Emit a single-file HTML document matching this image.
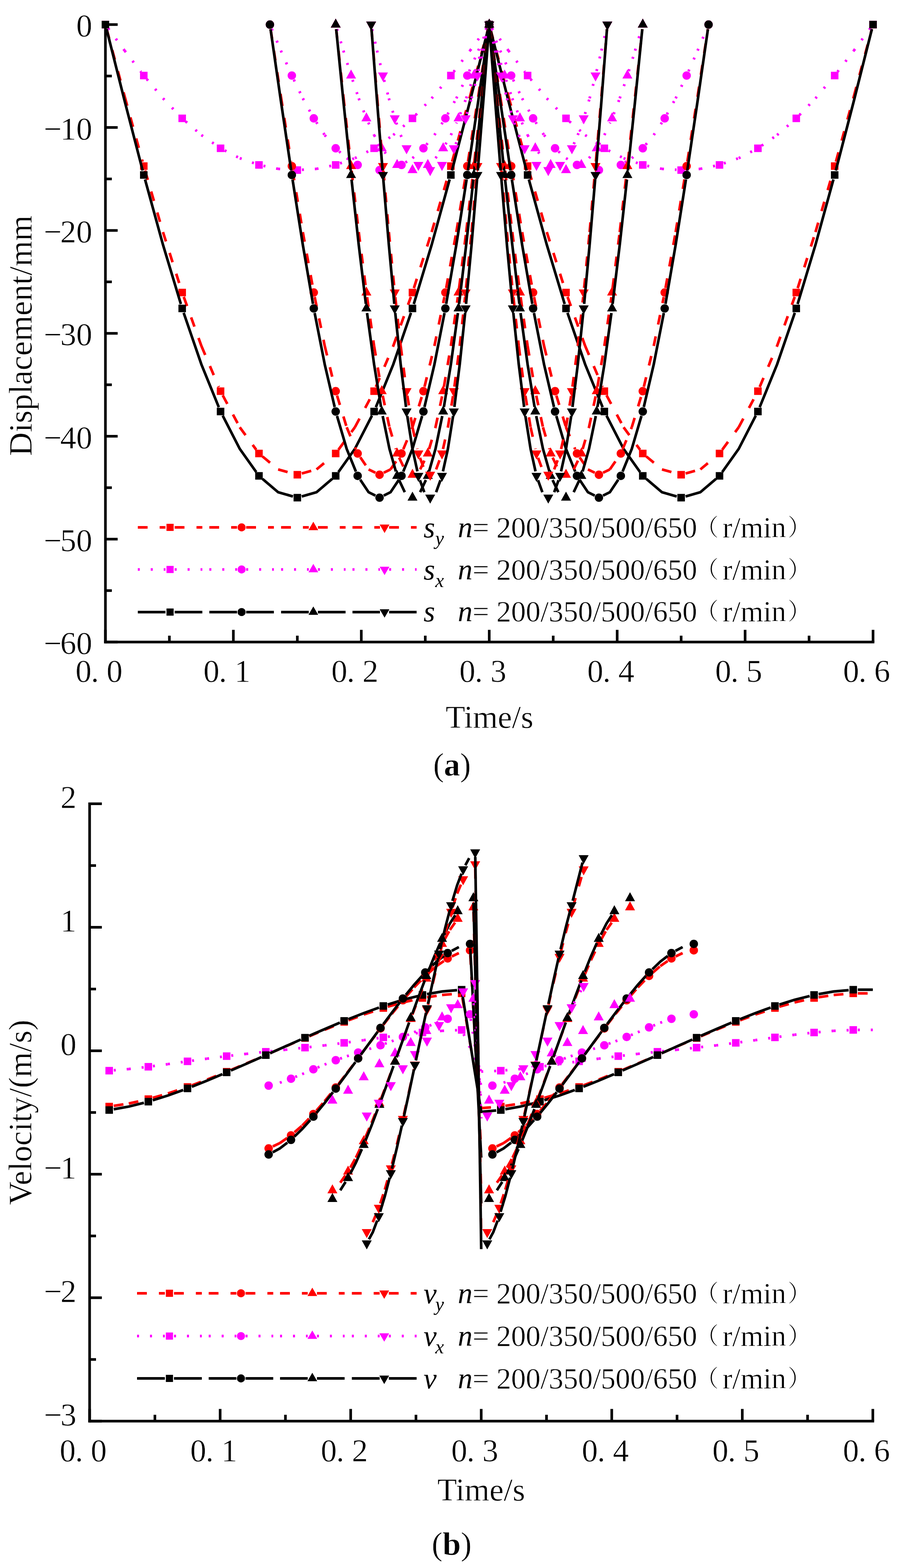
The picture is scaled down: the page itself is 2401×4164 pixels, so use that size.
<!DOCTYPE html>
<html><head><meta charset="utf-8"><title>Displacement and velocity curves</title>
<style>html,body{margin:0;padding:0;background:#fff;} svg{display:block;}</style>
</head><body>
<svg width="2401" height="4164" viewBox="0 0 2401 4164" font-family="'Liberation Serif','Noto Serif CJK SC',serif">
<style>text{stroke:#fff;stroke-width:0.8px;} tspan[font-style=italic]{stroke:none;}</style>
<rect width="2401" height="4164" fill="#fff"/>
<g stroke="#ff0000" stroke-width="7.0" stroke-dasharray="26 32" fill="none"><path d="M283.2,77.1 L331.0,255.8"/><path d="M331.0,255.8 L378.7,429.4"/><path d="M385.3,452.8 L432.9,616.3"/><path d="M432.9,616.3 L480.2,765.2"/><path d="M488.0,788.3 L534.9,918.7"/><path d="M534.9,918.7 L581.1,1027.6"/><path d="M591.5,1049.6 L636.8,1134.6"/><path d="M636.8,1134.6 L680.6,1194.4"/><path d="M697.2,1212.1 L738.7,1246.6"/><path d="M738.7,1246.6 L777.9,1257.4"/><path d="M801.5,1257.4 L840.7,1246.6"/><path d="M840.7,1246.6 L882.2,1212.1"/><path d="M898.8,1194.4 L942.6,1134.6"/><path d="M942.6,1134.6 L987.9,1049.6"/><path d="M998.3,1027.6 L1044.5,918.7"/><path d="M1044.5,918.7 L1091.4,788.3"/><path d="M1099.2,765.2 L1146.5,616.3"/><path d="M1146.5,616.3 L1194.1,452.8"/><path d="M1200.7,429.4 L1248.4,255.8"/><path d="M1248.4,255.8 L1296.2,77.1"/><path d="M1302.6,77.1 L1350.4,255.8"/><path d="M1350.4,255.8 L1398.1,429.4"/><path d="M1404.7,452.8 L1452.3,616.3"/><path d="M1452.3,616.3 L1499.6,765.2"/><path d="M1507.4,788.3 L1554.2,918.7"/><path d="M1554.2,918.7 L1600.5,1027.6"/><path d="M1610.9,1049.6 L1656.2,1134.6"/><path d="M1656.2,1134.6 L1700.0,1194.4"/><path d="M1716.6,1212.1 L1758.1,1246.6"/><path d="M1758.1,1246.6 L1797.3,1257.4"/><path d="M1820.9,1257.4 L1860.1,1246.6"/><path d="M1860.1,1246.6 L1901.6,1212.1"/><path d="M1918.2,1194.4 L1962.0,1134.6"/><path d="M1962.0,1134.6 L2007.3,1049.6"/><path d="M2017.7,1027.6 L2063.9,918.7"/><path d="M2063.9,918.7 L2110.8,788.3"/><path d="M2118.6,765.2 L2165.9,616.3"/><path d="M2165.9,616.3 L2213.5,452.8"/><path d="M2220.1,429.4 L2267.8,255.8"/><path d="M2267.8,255.8 L2315.6,77.1"/></g>
<rect x="270.0" y="55.3" width="20.0" height="20.0" fill="#ff0000"/>
<rect x="371.9" y="431.1" width="20.0" height="20.0" fill="#ff0000"/>
<rect x="473.9" y="766.8" width="20.0" height="20.0" fill="#ff0000"/>
<rect x="575.8" y="1028.8" width="20.0" height="20.0" fill="#ff0000"/>
<rect x="677.8" y="1194.3" width="20.0" height="20.0" fill="#ff0000"/>
<rect x="779.7" y="1250.7" width="20.0" height="20.0" fill="#ff0000"/>
<rect x="881.6" y="1194.3" width="20.0" height="20.0" fill="#ff0000"/>
<rect x="983.6" y="1028.8" width="20.0" height="20.0" fill="#ff0000"/>
<rect x="1085.5" y="766.8" width="20.0" height="20.0" fill="#ff0000"/>
<rect x="1187.5" y="431.1" width="20.0" height="20.0" fill="#ff0000"/>
<rect x="1289.4" y="55.3" width="20.0" height="20.0" fill="#ff0000"/>
<rect x="1391.3" y="431.1" width="20.0" height="20.0" fill="#ff0000"/>
<rect x="1493.3" y="766.8" width="20.0" height="20.0" fill="#ff0000"/>
<rect x="1595.2" y="1028.8" width="20.0" height="20.0" fill="#ff0000"/>
<rect x="1697.2" y="1194.3" width="20.0" height="20.0" fill="#ff0000"/>
<rect x="1799.1" y="1250.7" width="20.0" height="20.0" fill="#ff0000"/>
<rect x="1901.0" y="1194.3" width="20.0" height="20.0" fill="#ff0000"/>
<rect x="2003.0" y="1028.8" width="20.0" height="20.0" fill="#ff0000"/>
<rect x="2104.9" y="766.8" width="20.0" height="20.0" fill="#ff0000"/>
<rect x="2206.9" y="431.1" width="20.0" height="20.0" fill="#ff0000"/>
<rect x="2308.8" y="55.3" width="20.0" height="20.0" fill="#ff0000"/>
<g stroke="#ff00ff" stroke-width="7.0" stroke-dasharray="5.3 29.1" fill="none"><path d="M287.2,75.1 L331.0,134.4"/><path d="M331.0,134.4 L374.5,190.9"/><path d="M389.8,209.9 L432.9,261.2"/><path d="M432.9,261.2 L475.4,305.5"/><path d="M493.1,322.3 L534.9,358.7"/><path d="M534.9,358.7 L575.8,386.9"/><path d="M596.7,399.4 L636.8,420.1"/><path d="M636.8,420.1 L676.3,433.9"/><path d="M699.7,440.4 L738.7,448.4"/><path d="M738.7,448.4 L777.5,450.9"/><path d="M801.9,450.9 L840.7,448.4"/><path d="M840.7,448.4 L879.7,440.4"/><path d="M903.1,433.9 L942.6,420.1"/><path d="M942.6,420.1 L982.7,399.4"/><path d="M1003.6,386.9 L1044.5,358.7"/><path d="M1044.5,358.7 L1086.3,322.3"/><path d="M1104.0,305.5 L1146.5,261.2"/><path d="M1146.5,261.2 L1189.6,209.9"/><path d="M1204.9,190.9 L1248.4,134.4"/><path d="M1248.4,134.4 L1292.2,75.1"/><path d="M1306.6,75.1 L1350.4,134.4"/><path d="M1350.4,134.4 L1393.9,190.9"/><path d="M1409.2,209.9 L1452.3,261.2"/><path d="M1452.3,261.2 L1494.8,305.5"/><path d="M1512.5,322.3 L1554.2,358.7"/><path d="M1554.2,358.7 L1595.2,386.9"/><path d="M1616.1,399.4 L1656.2,420.1"/><path d="M1656.2,420.1 L1695.7,433.9"/><path d="M1719.1,440.4 L1758.1,448.4"/><path d="M1758.1,448.4 L1796.9,450.9"/><path d="M1821.3,450.9 L1860.1,448.4"/><path d="M1860.1,448.4 L1899.1,440.4"/><path d="M1922.5,433.9 L1962.0,420.1"/><path d="M1962.0,420.1 L2002.1,399.4"/><path d="M2023.0,386.9 L2063.9,358.7"/><path d="M2063.9,358.7 L2105.7,322.3"/><path d="M2123.4,305.5 L2165.9,261.2"/><path d="M2165.9,261.2 L2209.0,209.9"/><path d="M2224.3,190.9 L2267.8,134.4"/><path d="M2267.8,134.4 L2311.6,75.1"/></g>
<rect x="270.0" y="55.3" width="20.0" height="20.0" fill="#ff00ff"/>
<rect x="371.9" y="190.6" width="20.0" height="20.0" fill="#ff00ff"/>
<rect x="473.9" y="304.3" width="20.0" height="20.0" fill="#ff00ff"/>
<rect x="575.8" y="383.8" width="20.0" height="20.0" fill="#ff00ff"/>
<rect x="677.8" y="428.0" width="20.0" height="20.0" fill="#ff00ff"/>
<rect x="779.7" y="441.7" width="20.0" height="20.0" fill="#ff00ff"/>
<rect x="881.6" y="428.0" width="20.0" height="20.0" fill="#ff00ff"/>
<rect x="983.6" y="383.8" width="20.0" height="20.0" fill="#ff00ff"/>
<rect x="1085.5" y="304.3" width="20.0" height="20.0" fill="#ff00ff"/>
<rect x="1187.5" y="190.6" width="20.0" height="20.0" fill="#ff00ff"/>
<rect x="1289.4" y="55.3" width="20.0" height="20.0" fill="#ff00ff"/>
<rect x="1391.3" y="190.6" width="20.0" height="20.0" fill="#ff00ff"/>
<rect x="1493.3" y="304.3" width="20.0" height="20.0" fill="#ff00ff"/>
<rect x="1595.2" y="383.8" width="20.0" height="20.0" fill="#ff00ff"/>
<rect x="1697.2" y="428.0" width="20.0" height="20.0" fill="#ff00ff"/>
<rect x="1799.1" y="441.7" width="20.0" height="20.0" fill="#ff00ff"/>
<rect x="1901.0" y="428.0" width="20.0" height="20.0" fill="#ff00ff"/>
<rect x="2003.0" y="383.8" width="20.0" height="20.0" fill="#ff00ff"/>
<rect x="2104.9" y="304.3" width="20.0" height="20.0" fill="#ff00ff"/>
<rect x="2206.9" y="190.6" width="20.0" height="20.0" fill="#ff00ff"/>
<rect x="2308.8" y="55.3" width="20.0" height="20.0" fill="#ff00ff"/>
<path d="M283.0,77.1 L331.0,268.0 L378.9,452.9M385.2,476.5 L432.9,650.1 L480.4,807.4M487.8,830.6 L534.9,967.7 L581.2,1081.5M591.4,1103.6 L636.8,1192.0 L680.7,1253.8M697.0,1271.6 L738.7,1307.1 L778.0,1318.3M801.4,1318.3 L840.7,1307.1 L882.4,1271.6M898.7,1253.8 L942.6,1192.0 L988.0,1103.6M998.2,1081.5 L1044.5,967.7 L1091.6,830.6M1099.0,807.4 L1146.5,650.1 L1194.2,476.5M1200.5,452.9 L1248.4,268.0 L1296.4,77.1M1302.4,77.1 L1350.4,268.0 L1398.3,452.9M1404.6,476.5 L1452.3,650.1 L1499.8,807.4M1507.2,830.6 L1554.2,967.7 L1600.6,1081.5M1610.8,1103.6 L1656.2,1192.0 L1700.1,1253.8M1716.4,1271.6 L1758.1,1307.1 L1797.4,1318.3M1820.8,1318.3 L1860.1,1307.1 L1901.8,1271.6M1918.1,1253.8 L1962.0,1192.0 L2007.4,1103.6M2017.6,1081.5 L2063.9,967.7 L2111.0,830.6M2118.4,807.4 L2165.9,650.1 L2213.6,476.5M2219.9,452.9 L2267.8,268.0 L2315.8,77.1" stroke="#000000" stroke-width="7.0" fill="none"/>
<rect x="270.0" y="55.3" width="20.0" height="20.0" fill="#000000"/>
<rect x="371.9" y="454.7" width="20.0" height="20.0" fill="#000000"/>
<rect x="473.9" y="809.1" width="20.0" height="20.0" fill="#000000"/>
<rect x="575.8" y="1082.8" width="20.0" height="20.0" fill="#000000"/>
<rect x="677.8" y="1253.7" width="20.0" height="20.0" fill="#000000"/>
<rect x="779.7" y="1311.6" width="20.0" height="20.0" fill="#000000"/>
<rect x="881.6" y="1253.7" width="20.0" height="20.0" fill="#000000"/>
<rect x="983.6" y="1082.8" width="20.0" height="20.0" fill="#000000"/>
<rect x="1085.5" y="809.1" width="20.0" height="20.0" fill="#000000"/>
<rect x="1187.5" y="454.7" width="20.0" height="20.0" fill="#000000"/>
<rect x="1289.4" y="55.3" width="20.0" height="20.0" fill="#000000"/>
<rect x="1391.3" y="454.7" width="20.0" height="20.0" fill="#000000"/>
<rect x="1493.3" y="809.1" width="20.0" height="20.0" fill="#000000"/>
<rect x="1595.2" y="1082.8" width="20.0" height="20.0" fill="#000000"/>
<rect x="1697.2" y="1253.7" width="20.0" height="20.0" fill="#000000"/>
<rect x="1799.1" y="1311.6" width="20.0" height="20.0" fill="#000000"/>
<rect x="1901.0" y="1253.7" width="20.0" height="20.0" fill="#000000"/>
<rect x="2003.0" y="1082.8" width="20.0" height="20.0" fill="#000000"/>
<rect x="2104.9" y="809.1" width="20.0" height="20.0" fill="#000000"/>
<rect x="2206.9" y="454.7" width="20.0" height="20.0" fill="#000000"/>
<rect x="2308.8" y="55.3" width="20.0" height="20.0" fill="#000000"/>
<g stroke="#ff0000" stroke-width="7.0" stroke-dasharray="26 32" fill="none"><path d="M718.7,77.4 L746.0,255.8"/><path d="M746.0,255.8 L773.2,429.1"/><path d="M777.1,453.2 L804.3,616.3"/><path d="M804.3,616.3 L831.2,764.8"/><path d="M835.8,788.7 L862.5,918.7"/><path d="M862.5,918.7 L888.8,1027.0"/><path d="M895.2,1050.5 L920.8,1134.6"/><path d="M920.8,1134.6 L945.2,1193.0"/><path d="M956.8,1214.3 L979.0,1246.6"/><path d="M979.0,1246.6 L997.2,1255.4"/><path d="M1019.1,1255.4 L1037.3,1246.6"/><path d="M1037.3,1246.6 L1059.5,1214.3"/><path d="M1071.1,1193.0 L1095.5,1134.6"/><path d="M1095.5,1134.6 L1121.1,1050.5"/><path d="M1127.5,1027.0 L1153.8,918.7"/><path d="M1153.8,918.7 L1180.4,788.7"/><path d="M1185.1,764.8 L1212.0,616.3"/><path d="M1212.0,616.3 L1239.1,453.2"/><path d="M1243.0,429.1 L1270.3,255.8"/><path d="M1270.3,255.8 L1297.6,77.4"/><path d="M1301.2,77.4 L1328.5,255.8"/><path d="M1328.5,255.8 L1355.8,429.1"/><path d="M1359.7,453.2 L1386.8,616.3"/><path d="M1386.8,616.3 L1413.7,764.8"/><path d="M1418.4,788.7 L1445.0,918.7"/><path d="M1445.0,918.7 L1471.3,1027.0"/><path d="M1477.7,1050.5 L1503.3,1134.6"/><path d="M1503.3,1134.6 L1527.7,1193.0"/><path d="M1539.3,1214.3 L1561.5,1246.6"/><path d="M1561.5,1246.6 L1579.7,1255.4"/><path d="M1601.6,1255.4 L1619.8,1246.6"/><path d="M1619.8,1246.6 L1642.0,1214.3"/><path d="M1653.6,1193.0 L1678.0,1134.6"/><path d="M1678.0,1134.6 L1703.6,1050.5"/><path d="M1710.0,1027.0 L1736.3,918.7"/><path d="M1736.3,918.7 L1763.0,788.7"/><path d="M1767.6,764.8 L1794.5,616.3"/><path d="M1794.5,616.3 L1821.7,453.2"/><path d="M1825.6,429.1 L1852.8,255.8"/><path d="M1852.8,255.8 L1880.1,77.4"/></g>
<circle cx="716.9" cy="65.3" r="11.2" fill="#ff0000"/>
<circle cx="775.1" cy="441.1" r="11.2" fill="#ff0000"/>
<circle cx="833.4" cy="776.8" r="11.2" fill="#ff0000"/>
<circle cx="891.6" cy="1038.8" r="11.2" fill="#ff0000"/>
<circle cx="949.9" cy="1204.3" r="11.2" fill="#ff0000"/>
<circle cx="1008.1" cy="1260.7" r="11.2" fill="#ff0000"/>
<circle cx="1066.4" cy="1204.3" r="11.2" fill="#ff0000"/>
<circle cx="1124.6" cy="1038.8" r="11.2" fill="#ff0000"/>
<circle cx="1182.9" cy="776.8" r="11.2" fill="#ff0000"/>
<circle cx="1241.1" cy="441.1" r="11.2" fill="#ff0000"/>
<circle cx="1299.4" cy="65.3" r="11.2" fill="#ff0000"/>
<circle cx="1357.7" cy="441.1" r="11.2" fill="#ff0000"/>
<circle cx="1415.9" cy="776.8" r="11.2" fill="#ff0000"/>
<circle cx="1474.2" cy="1038.8" r="11.2" fill="#ff0000"/>
<circle cx="1532.4" cy="1204.3" r="11.2" fill="#ff0000"/>
<circle cx="1590.7" cy="1260.7" r="11.2" fill="#ff0000"/>
<circle cx="1648.9" cy="1204.3" r="11.2" fill="#ff0000"/>
<circle cx="1707.2" cy="1038.8" r="11.2" fill="#ff0000"/>
<circle cx="1765.4" cy="776.8" r="11.2" fill="#ff0000"/>
<circle cx="1823.7" cy="441.1" r="11.2" fill="#ff0000"/>
<circle cx="1881.9" cy="65.3" r="11.2" fill="#ff0000"/>
<g stroke="#ff00ff" stroke-width="7.0" stroke-dasharray="5.3 29.1" fill="none"><path d="M721.6,76.5 L746.0,134.4"/><path d="M746.0,134.4 L770.2,189.4"/><path d="M780.4,211.6 L804.3,261.2"/><path d="M804.3,261.2 L827.5,303.6"/><path d="M840.1,324.5 L862.5,358.7"/><path d="M862.5,358.7 L883.9,384.4"/><path d="M900.7,402.0 L920.8,420.1"/><path d="M920.8,420.1 L939.5,431.6"/><path d="M1076.8,431.6 L1095.5,420.1"/><path d="M1095.5,420.1 L1115.6,402.0"/><path d="M1132.4,384.4 L1153.8,358.7"/><path d="M1153.8,358.7 L1176.2,324.5"/><path d="M1188.8,303.6 L1212.0,261.2"/><path d="M1212.0,261.2 L1235.9,211.6"/><path d="M1246.1,189.4 L1270.3,134.4"/><path d="M1270.3,134.4 L1294.7,76.5"/><path d="M1304.1,76.5 L1328.5,134.4"/><path d="M1328.5,134.4 L1352.7,189.4"/><path d="M1362.9,211.6 L1386.8,261.2"/><path d="M1386.8,261.2 L1410.0,303.6"/><path d="M1422.6,324.5 L1445.0,358.7"/><path d="M1445.0,358.7 L1466.4,384.4"/><path d="M1483.2,402.0 L1503.3,420.1"/><path d="M1503.3,420.1 L1522.0,431.6"/><path d="M1659.3,431.6 L1678.0,420.1"/><path d="M1678.0,420.1 L1698.1,402.0"/><path d="M1714.9,384.4 L1736.3,358.7"/><path d="M1736.3,358.7 L1758.7,324.5"/><path d="M1771.3,303.6 L1794.5,261.2"/><path d="M1794.5,261.2 L1818.4,211.6"/><path d="M1828.6,189.4 L1852.8,134.4"/><path d="M1852.8,134.4 L1877.2,76.5"/></g>
<circle cx="716.9" cy="65.3" r="11.2" fill="#ff00ff"/>
<circle cx="775.1" cy="200.6" r="11.2" fill="#ff00ff"/>
<circle cx="833.4" cy="314.3" r="11.2" fill="#ff00ff"/>
<circle cx="891.6" cy="393.8" r="11.2" fill="#ff00ff"/>
<circle cx="949.9" cy="438.0" r="11.2" fill="#ff00ff"/>
<circle cx="1008.1" cy="451.7" r="11.2" fill="#ff00ff"/>
<circle cx="1066.4" cy="438.0" r="11.2" fill="#ff00ff"/>
<circle cx="1124.6" cy="393.8" r="11.2" fill="#ff00ff"/>
<circle cx="1182.9" cy="314.3" r="11.2" fill="#ff00ff"/>
<circle cx="1241.1" cy="200.6" r="11.2" fill="#ff00ff"/>
<circle cx="1299.4" cy="65.3" r="11.2" fill="#ff00ff"/>
<circle cx="1357.7" cy="200.6" r="11.2" fill="#ff00ff"/>
<circle cx="1415.9" cy="314.3" r="11.2" fill="#ff00ff"/>
<circle cx="1474.2" cy="393.8" r="11.2" fill="#ff00ff"/>
<circle cx="1532.4" cy="438.0" r="11.2" fill="#ff00ff"/>
<circle cx="1590.7" cy="451.7" r="11.2" fill="#ff00ff"/>
<circle cx="1648.9" cy="438.0" r="11.2" fill="#ff00ff"/>
<circle cx="1707.2" cy="393.8" r="11.2" fill="#ff00ff"/>
<circle cx="1765.4" cy="314.3" r="11.2" fill="#ff00ff"/>
<circle cx="1823.7" cy="200.6" r="11.2" fill="#ff00ff"/>
<circle cx="1881.9" cy="65.3" r="11.2" fill="#ff00ff"/>
<path d="M718.6,77.4 L746.0,268.0 L773.4,452.7M777.0,476.8 L804.3,650.1 L831.3,807.1M835.7,831.1 L862.5,967.7 L888.9,1080.9M895.1,1104.5 L920.8,1192.0 L945.3,1252.4M956.7,1273.8 L979.0,1307.1 L997.2,1316.2M1019.1,1316.2 L1037.3,1307.1 L1059.6,1273.8M1071.0,1252.4 L1095.5,1192.0 L1121.2,1104.5M1127.4,1080.9 L1153.8,967.7 L1180.6,831.1M1185.0,807.1 L1212.0,650.1 L1239.3,476.8M1242.9,452.7 L1270.3,268.0 L1297.7,77.4M1301.1,77.4 L1328.5,268.0 L1355.9,452.7M1359.5,476.8 L1386.8,650.1 L1413.8,807.1M1418.2,831.1 L1445.0,967.7 L1471.4,1080.9M1477.6,1104.5 L1503.3,1192.0 L1527.8,1252.4M1539.2,1273.8 L1561.5,1307.1 L1579.7,1316.2M1601.6,1316.2 L1619.8,1307.1 L1642.1,1273.8M1653.5,1252.4 L1678.0,1192.0 L1703.7,1104.5M1709.9,1080.9 L1736.3,967.7 L1763.1,831.1M1767.5,807.1 L1794.5,650.1 L1821.8,476.8M1825.4,452.7 L1852.8,268.0 L1880.2,77.4" stroke="#000000" stroke-width="7.0" fill="none"/>
<circle cx="716.9" cy="65.3" r="11.2" fill="#000000"/>
<circle cx="775.1" cy="464.7" r="11.2" fill="#000000"/>
<circle cx="833.4" cy="819.1" r="11.2" fill="#000000"/>
<circle cx="891.6" cy="1092.8" r="11.2" fill="#000000"/>
<circle cx="949.9" cy="1263.7" r="11.2" fill="#000000"/>
<circle cx="1008.1" cy="1321.6" r="11.2" fill="#000000"/>
<circle cx="1066.4" cy="1263.7" r="11.2" fill="#000000"/>
<circle cx="1124.6" cy="1092.8" r="11.2" fill="#000000"/>
<circle cx="1182.9" cy="819.1" r="11.2" fill="#000000"/>
<circle cx="1241.1" cy="464.7" r="11.2" fill="#000000"/>
<circle cx="1299.4" cy="65.3" r="11.2" fill="#000000"/>
<circle cx="1357.7" cy="464.7" r="11.2" fill="#000000"/>
<circle cx="1415.9" cy="819.1" r="11.2" fill="#000000"/>
<circle cx="1474.2" cy="1092.8" r="11.2" fill="#000000"/>
<circle cx="1532.4" cy="1263.7" r="11.2" fill="#000000"/>
<circle cx="1590.7" cy="1321.6" r="11.2" fill="#000000"/>
<circle cx="1648.9" cy="1263.7" r="11.2" fill="#000000"/>
<circle cx="1707.2" cy="1092.8" r="11.2" fill="#000000"/>
<circle cx="1765.4" cy="819.1" r="11.2" fill="#000000"/>
<circle cx="1823.7" cy="464.7" r="11.2" fill="#000000"/>
<circle cx="1881.9" cy="65.3" r="11.2" fill="#000000"/>
<g stroke="#ff0000" stroke-width="7.0" stroke-dasharray="26 32" fill="none"><path d="M892.9,77.4 L912.0,255.8"/><path d="M912.0,255.8 L931.1,429.0"/><path d="M933.8,453.2 L952.8,616.3"/><path d="M952.8,616.3 L971.7,764.7"/><path d="M974.9,788.9 L993.6,918.7"/><path d="M993.6,918.7 L1011.9,1026.8"/><path d="M1016.5,1050.8 L1034.4,1134.6"/><path d="M1034.4,1134.6 L1051.3,1192.6"/><path d="M1060.0,1215.3 L1075.1,1246.6"/><path d="M1115.9,1246.6 L1131.0,1215.3"/><path d="M1139.7,1192.6 L1156.7,1134.6"/><path d="M1156.7,1134.6 L1174.5,1050.8"/><path d="M1179.1,1026.8 L1197.5,918.7"/><path d="M1197.5,918.7 L1216.1,788.9"/><path d="M1219.4,764.7 L1238.2,616.3"/><path d="M1238.2,616.3 L1257.2,453.2"/><path d="M1260.0,429.0 L1279.0,255.8"/><path d="M1279.0,255.8 L1298.1,77.4"/><path d="M1300.7,77.4 L1319.8,255.8"/><path d="M1319.8,255.8 L1338.8,429.0"/><path d="M1341.6,453.2 L1360.6,616.3"/><path d="M1360.6,616.3 L1379.4,764.7"/><path d="M1382.7,788.9 L1401.3,918.7"/><path d="M1401.3,918.7 L1419.7,1026.8"/><path d="M1424.3,1050.8 L1442.1,1134.6"/><path d="M1442.1,1134.6 L1459.1,1192.6"/><path d="M1467.8,1215.3 L1482.9,1246.6"/><path d="M1523.7,1246.6 L1538.8,1215.3"/><path d="M1547.5,1192.6 L1564.4,1134.6"/><path d="M1564.4,1134.6 L1582.3,1050.8"/><path d="M1586.9,1026.8 L1605.2,918.7"/><path d="M1605.2,918.7 L1623.9,788.9"/><path d="M1627.1,764.7 L1646.0,616.3"/><path d="M1646.0,616.3 L1665.0,453.2"/><path d="M1667.7,429.0 L1686.8,255.8"/><path d="M1686.8,255.8 L1705.9,77.4"/></g>
<polygon points="891.6,49.3 878.4,73.3 904.9,73.3" fill="#ff0000"/>
<polygon points="932.4,425.1 919.2,449.1 945.7,449.1" fill="#ff0000"/>
<polygon points="973.2,760.8 959.9,784.8 986.4,784.8" fill="#ff0000"/>
<polygon points="1014.0,1022.8 1000.7,1046.8 1027.2,1046.8" fill="#ff0000"/>
<polygon points="1054.7,1188.3 1041.5,1212.3 1068.0,1212.3" fill="#ff0000"/>
<polygon points="1095.5,1244.7 1082.3,1268.7 1108.8,1268.7" fill="#ff0000"/>
<polygon points="1136.3,1188.3 1123.0,1212.3 1149.5,1212.3" fill="#ff0000"/>
<polygon points="1177.1,1022.8 1163.8,1046.8 1190.3,1046.8" fill="#ff0000"/>
<polygon points="1217.8,760.8 1204.6,784.8 1231.1,784.8" fill="#ff0000"/>
<polygon points="1258.6,425.1 1245.4,449.1 1271.9,449.1" fill="#ff0000"/>
<polygon points="1299.4,49.3 1286.2,73.3 1312.7,73.3" fill="#ff0000"/>
<polygon points="1340.2,425.1 1326.9,449.1 1353.4,449.1" fill="#ff0000"/>
<polygon points="1381.0,760.8 1367.7,784.8 1394.2,784.8" fill="#ff0000"/>
<polygon points="1421.7,1022.8 1408.5,1046.8 1435.0,1046.8" fill="#ff0000"/>
<polygon points="1462.5,1188.3 1449.3,1212.3 1475.8,1212.3" fill="#ff0000"/>
<polygon points="1503.3,1244.7 1490.0,1268.7 1516.5,1268.7" fill="#ff0000"/>
<polygon points="1544.1,1188.3 1530.8,1212.3 1557.3,1212.3" fill="#ff0000"/>
<polygon points="1584.8,1022.8 1571.6,1046.8 1598.1,1046.8" fill="#ff0000"/>
<polygon points="1625.6,760.8 1612.4,784.8 1638.9,784.8" fill="#ff0000"/>
<polygon points="1666.4,425.1 1653.1,449.1 1679.6,449.1" fill="#ff0000"/>
<polygon points="1707.2,49.3 1693.9,73.3 1720.4,73.3" fill="#ff0000"/>
<g stroke="#ff00ff" stroke-width="7.0" stroke-dasharray="5.3 29.1" fill="none"><path d="M895.1,77.0 L912.0,134.4"/><path d="M912.0,134.4 L928.8,188.9"/><path d="M936.3,212.2 L952.8,261.2"/><path d="M952.8,261.2 L968.8,302.9"/><path d="M978.3,325.4 L993.6,358.7"/><path d="M993.6,358.7 L1007.8,383.3"/><path d="M1021.5,403.5 L1034.4,420.1"/><path d="M1156.7,420.1 L1169.6,403.5"/><path d="M1183.2,383.3 L1197.5,358.7"/><path d="M1197.5,358.7 L1212.8,325.4"/><path d="M1222.2,302.9 L1238.2,261.2"/><path d="M1238.2,261.2 L1254.7,212.2"/><path d="M1262.2,188.9 L1279.0,134.4"/><path d="M1279.0,134.4 L1295.9,77.0"/><path d="M1302.9,77.0 L1319.8,134.4"/><path d="M1319.8,134.4 L1336.6,188.9"/><path d="M1344.1,212.2 L1360.6,261.2"/><path d="M1360.6,261.2 L1376.6,302.9"/><path d="M1386.0,325.4 L1401.3,358.7"/><path d="M1401.3,358.7 L1415.6,383.3"/><path d="M1429.2,403.5 L1442.1,420.1"/><path d="M1564.4,420.1 L1577.3,403.5"/><path d="M1591.0,383.3 L1605.2,358.7"/><path d="M1605.2,358.7 L1620.5,325.4"/><path d="M1630.0,302.9 L1646.0,261.2"/><path d="M1646.0,261.2 L1662.5,212.2"/><path d="M1670.0,188.9 L1686.8,134.4"/><path d="M1686.8,134.4 L1703.7,77.0"/></g>
<polygon points="891.6,49.3 878.4,73.3 904.9,73.3" fill="#ff00ff"/>
<polygon points="932.4,184.6 919.2,208.6 945.7,208.6" fill="#ff00ff"/>
<polygon points="973.2,298.3 959.9,322.3 986.4,322.3" fill="#ff00ff"/>
<polygon points="1014.0,377.8 1000.7,401.8 1027.2,401.8" fill="#ff00ff"/>
<polygon points="1054.7,422.0 1041.5,446.0 1068.0,446.0" fill="#ff00ff"/>
<polygon points="1095.5,435.7 1082.3,459.7 1108.8,459.7" fill="#ff00ff"/>
<polygon points="1136.3,422.0 1123.0,446.0 1149.5,446.0" fill="#ff00ff"/>
<polygon points="1177.1,377.8 1163.8,401.8 1190.3,401.8" fill="#ff00ff"/>
<polygon points="1217.8,298.3 1204.6,322.3 1231.1,322.3" fill="#ff00ff"/>
<polygon points="1258.6,184.6 1245.4,208.6 1271.9,208.6" fill="#ff00ff"/>
<polygon points="1299.4,49.3 1286.2,73.3 1312.7,73.3" fill="#ff00ff"/>
<polygon points="1340.2,184.6 1326.9,208.6 1353.4,208.6" fill="#ff00ff"/>
<polygon points="1381.0,298.3 1367.7,322.3 1394.2,322.3" fill="#ff00ff"/>
<polygon points="1421.7,377.8 1408.5,401.8 1435.0,401.8" fill="#ff00ff"/>
<polygon points="1462.5,422.0 1449.3,446.0 1475.8,446.0" fill="#ff00ff"/>
<polygon points="1503.3,435.7 1490.0,459.7 1516.5,459.7" fill="#ff00ff"/>
<polygon points="1544.1,422.0 1530.8,446.0 1557.3,446.0" fill="#ff00ff"/>
<polygon points="1584.8,377.8 1571.6,401.8 1598.1,401.8" fill="#ff00ff"/>
<polygon points="1625.6,298.3 1612.4,322.3 1638.9,322.3" fill="#ff00ff"/>
<polygon points="1666.4,184.6 1653.1,208.6 1679.6,208.6" fill="#ff00ff"/>
<polygon points="1707.2,49.3 1693.9,73.3 1720.4,73.3" fill="#ff00ff"/>
<path d="M892.9,77.4 L912.0,268.0 L931.2,452.6M933.7,476.9 L952.8,650.1 L971.7,807.0M974.9,831.2 L993.6,967.7 L1012.0,1080.7M1016.4,1104.7 L1034.4,1192.0 L1051.4,1252.0M1059.9,1274.8 L1075.1,1307.1M1115.9,1307.1 L1131.1,1274.8M1139.6,1252.0 L1156.7,1192.0 L1174.6,1104.7M1179.0,1080.7 L1197.5,967.7 L1216.2,831.2M1219.3,807.0 L1238.2,650.1 L1257.3,476.9M1259.9,452.6 L1279.0,268.0 L1298.2,77.4M1300.6,77.4 L1319.8,268.0 L1338.9,452.6M1341.5,476.9 L1360.6,650.1 L1379.5,807.0M1382.6,831.2 L1401.3,967.7 L1419.8,1080.7M1424.2,1104.7 L1442.1,1192.0 L1459.2,1252.0M1467.7,1274.8 L1482.9,1307.1M1523.7,1307.1 L1538.9,1274.8M1547.4,1252.0 L1564.4,1192.0 L1582.4,1104.7M1586.8,1080.7 L1605.2,967.7 L1623.9,831.2M1627.1,807.0 L1646.0,650.1 L1665.1,476.9M1667.6,452.6 L1686.8,268.0 L1705.9,77.4" stroke="#000000" stroke-width="7.0" fill="none"/>
<polygon points="891.6,49.3 878.4,73.3 904.9,73.3" fill="#000000"/>
<polygon points="932.4,448.7 919.2,472.7 945.7,472.7" fill="#000000"/>
<polygon points="973.2,803.1 959.9,827.1 986.4,827.1" fill="#000000"/>
<polygon points="1014.0,1076.8 1000.7,1100.8 1027.2,1100.8" fill="#000000"/>
<polygon points="1054.7,1247.7 1041.5,1271.7 1068.0,1271.7" fill="#000000"/>
<polygon points="1095.5,1305.6 1082.3,1329.6 1108.8,1329.6" fill="#000000"/>
<polygon points="1136.3,1247.7 1123.0,1271.7 1149.5,1271.7" fill="#000000"/>
<polygon points="1177.1,1076.8 1163.8,1100.8 1190.3,1100.8" fill="#000000"/>
<polygon points="1217.8,803.1 1204.6,827.1 1231.1,827.1" fill="#000000"/>
<polygon points="1258.6,448.7 1245.4,472.7 1271.9,472.7" fill="#000000"/>
<polygon points="1299.4,49.3 1286.2,73.3 1312.7,73.3" fill="#000000"/>
<polygon points="1340.2,448.7 1326.9,472.7 1353.4,472.7" fill="#000000"/>
<polygon points="1381.0,803.1 1367.7,827.1 1394.2,827.1" fill="#000000"/>
<polygon points="1421.7,1076.8 1408.5,1100.8 1435.0,1100.8" fill="#000000"/>
<polygon points="1462.5,1247.7 1449.3,1271.7 1475.8,1271.7" fill="#000000"/>
<polygon points="1503.3,1305.6 1490.0,1329.6 1516.5,1329.6" fill="#000000"/>
<polygon points="1544.1,1247.7 1530.8,1271.7 1557.3,1271.7" fill="#000000"/>
<polygon points="1584.8,1076.8 1571.6,1100.8 1598.1,1100.8" fill="#000000"/>
<polygon points="1625.6,803.1 1612.4,827.1 1638.9,827.1" fill="#000000"/>
<polygon points="1666.4,448.7 1653.1,472.7 1679.6,472.7" fill="#000000"/>
<polygon points="1707.2,49.3 1693.9,73.3 1720.4,73.3" fill="#000000"/>
<g stroke="#ff0000" stroke-width="7.0" stroke-dasharray="26 32" fill="none"><path d="M986.7,77.5 L1001.4,255.8"/><path d="M1001.4,255.8 L1016.1,429.0"/><path d="M1018.2,453.3 L1032.8,616.3"/><path d="M1032.8,616.3 L1047.3,764.6"/><path d="M1049.8,788.9 L1064.2,918.7"/><path d="M1064.2,918.7 L1078.3,1026.7"/><path d="M1081.8,1050.9 L1095.5,1134.6"/><path d="M1095.5,1134.6 L1108.5,1192.4"/><path d="M1115.4,1215.7 L1126.9,1246.6"/><path d="M1158.3,1246.6 L1169.7,1215.7"/><path d="M1176.6,1192.4 L1189.6,1134.6"/><path d="M1189.6,1134.6 L1203.3,1050.9"/><path d="M1206.9,1026.7 L1221.0,918.7"/><path d="M1221.0,918.7 L1235.3,788.9"/><path d="M1237.9,764.6 L1252.4,616.3"/><path d="M1252.4,616.3 L1266.9,453.3"/><path d="M1269.1,429.0 L1283.7,255.8"/><path d="M1283.7,255.8 L1298.4,77.5"/><path d="M1300.4,77.5 L1315.1,255.8"/><path d="M1315.1,255.8 L1329.7,429.0"/><path d="M1331.9,453.3 L1346.4,616.3"/><path d="M1346.4,616.3 L1360.9,764.6"/><path d="M1363.5,788.9 L1377.8,918.7"/><path d="M1377.8,918.7 L1391.9,1026.7"/><path d="M1395.5,1050.9 L1409.2,1134.6"/><path d="M1409.2,1134.6 L1422.2,1192.4"/><path d="M1429.1,1215.7 L1440.5,1246.6"/><path d="M1471.9,1246.6 L1483.4,1215.7"/><path d="M1490.3,1192.4 L1503.3,1134.6"/><path d="M1503.3,1134.6 L1517.0,1050.9"/><path d="M1520.5,1026.7 L1534.6,918.7"/><path d="M1534.6,918.7 L1549.0,788.9"/><path d="M1551.5,764.6 L1566.0,616.3"/><path d="M1566.0,616.3 L1580.6,453.3"/><path d="M1582.7,429.0 L1597.4,255.8"/><path d="M1597.4,255.8 L1612.1,77.5"/></g>
<polygon points="985.7,81.3 972.5,57.3 999.0,57.3" fill="#ff0000"/>
<polygon points="1017.1,457.1 1003.9,433.1 1030.4,433.1" fill="#ff0000"/>
<polygon points="1048.5,792.8 1035.2,768.8 1061.7,768.8" fill="#ff0000"/>
<polygon points="1079.8,1054.8 1066.6,1030.8 1093.1,1030.8" fill="#ff0000"/>
<polygon points="1111.2,1220.3 1098.0,1196.3 1124.5,1196.3" fill="#ff0000"/>
<polygon points="1142.6,1276.7 1129.3,1252.7 1155.8,1252.7" fill="#ff0000"/>
<polygon points="1173.9,1220.3 1160.7,1196.3 1187.2,1196.3" fill="#ff0000"/>
<polygon points="1205.3,1054.8 1192.1,1030.8 1218.6,1030.8" fill="#ff0000"/>
<polygon points="1236.7,792.8 1223.4,768.8 1249.9,768.8" fill="#ff0000"/>
<polygon points="1268.0,457.1 1254.8,433.1 1281.3,433.1" fill="#ff0000"/>
<polygon points="1299.4,81.3 1286.2,57.3 1312.7,57.3" fill="#ff0000"/>
<polygon points="1330.8,457.1 1317.5,433.1 1344.0,433.1" fill="#ff0000"/>
<polygon points="1362.1,792.8 1348.9,768.8 1375.4,768.8" fill="#ff0000"/>
<polygon points="1393.5,1054.8 1380.2,1030.8 1406.7,1030.8" fill="#ff0000"/>
<polygon points="1424.9,1220.3 1411.6,1196.3 1438.1,1196.3" fill="#ff0000"/>
<polygon points="1456.2,1276.7 1443.0,1252.7 1469.5,1252.7" fill="#ff0000"/>
<polygon points="1487.6,1220.3 1474.3,1196.3 1500.8,1196.3" fill="#ff0000"/>
<polygon points="1519.0,1054.8 1505.7,1030.8 1532.2,1030.8" fill="#ff0000"/>
<polygon points="1550.3,792.8 1537.1,768.8 1563.6,768.8" fill="#ff0000"/>
<polygon points="1581.7,457.1 1568.4,433.1 1594.9,433.1" fill="#ff0000"/>
<polygon points="1613.1,81.3 1599.8,57.3 1626.3,57.3" fill="#ff0000"/>
<g stroke="#ff00ff" stroke-width="7.0" stroke-dasharray="5.3 29.1" fill="none"><path d="M988.4,77.2 L1001.4,134.4"/><path d="M1001.4,134.4 L1014.3,188.7"/><path d="M1020.2,212.4 L1032.8,261.2"/><path d="M1032.8,261.2 L1045.0,302.6"/><path d="M1052.5,325.8 L1064.2,358.7"/><path d="M1064.2,358.7 L1074.9,382.7"/><path d="M1210.3,382.7 L1221.0,358.7"/><path d="M1221.0,358.7 L1232.6,325.8"/><path d="M1240.1,302.6 L1252.4,261.2"/><path d="M1252.4,261.2 L1265.0,212.4"/><path d="M1270.8,188.7 L1283.7,134.4"/><path d="M1283.7,134.4 L1296.7,77.2"/><path d="M1302.1,77.2 L1315.1,134.4"/><path d="M1315.1,134.4 L1328.0,188.7"/><path d="M1333.8,212.4 L1346.4,261.2"/><path d="M1346.4,261.2 L1358.7,302.6"/><path d="M1366.2,325.8 L1377.8,358.7"/><path d="M1377.8,358.7 L1388.5,382.7"/><path d="M1523.9,382.7 L1534.6,358.7"/><path d="M1534.6,358.7 L1546.3,325.8"/><path d="M1553.8,302.6 L1566.0,261.2"/><path d="M1566.0,261.2 L1578.6,212.4"/><path d="M1584.5,188.7 L1597.4,134.4"/><path d="M1597.4,134.4 L1610.4,77.2"/></g>
<polygon points="985.7,81.3 972.5,57.3 999.0,57.3" fill="#ff00ff"/>
<polygon points="1017.1,216.6 1003.9,192.6 1030.4,192.6" fill="#ff00ff"/>
<polygon points="1048.5,330.3 1035.2,306.3 1061.7,306.3" fill="#ff00ff"/>
<polygon points="1079.8,409.8 1066.6,385.8 1093.1,385.8" fill="#ff00ff"/>
<polygon points="1111.2,454.0 1098.0,430.0 1124.5,430.0" fill="#ff00ff"/>
<polygon points="1142.6,467.7 1129.3,443.7 1155.8,443.7" fill="#ff00ff"/>
<polygon points="1173.9,454.0 1160.7,430.0 1187.2,430.0" fill="#ff00ff"/>
<polygon points="1205.3,409.8 1192.1,385.8 1218.6,385.8" fill="#ff00ff"/>
<polygon points="1236.7,330.3 1223.4,306.3 1249.9,306.3" fill="#ff00ff"/>
<polygon points="1268.0,216.6 1254.8,192.6 1281.3,192.6" fill="#ff00ff"/>
<polygon points="1299.4,81.3 1286.2,57.3 1312.7,57.3" fill="#ff00ff"/>
<polygon points="1330.8,216.6 1317.5,192.6 1344.0,192.6" fill="#ff00ff"/>
<polygon points="1362.1,330.3 1348.9,306.3 1375.4,306.3" fill="#ff00ff"/>
<polygon points="1393.5,409.8 1380.2,385.8 1406.7,385.8" fill="#ff00ff"/>
<polygon points="1424.9,454.0 1411.6,430.0 1438.1,430.0" fill="#ff00ff"/>
<polygon points="1456.2,467.7 1443.0,443.7 1469.5,443.7" fill="#ff00ff"/>
<polygon points="1487.6,454.0 1474.3,430.0 1500.8,430.0" fill="#ff00ff"/>
<polygon points="1519.0,409.8 1505.7,385.8 1532.2,385.8" fill="#ff00ff"/>
<polygon points="1550.3,330.3 1537.1,306.3 1563.6,306.3" fill="#ff00ff"/>
<polygon points="1581.7,216.6 1568.4,192.6 1594.9,192.6" fill="#ff00ff"/>
<polygon points="1613.1,81.3 1599.8,57.3 1626.3,57.3" fill="#ff00ff"/>
<path d="M986.7,77.5 L1001.4,268.0 L1016.1,452.6M1018.1,476.9 L1032.8,650.1 L1047.3,807.0M1049.8,831.2 L1064.2,967.7 L1078.3,1080.7M1081.7,1104.8 L1095.5,1192.0 L1108.6,1251.8M1115.3,1275.2 L1126.9,1307.1M1158.3,1307.1 L1169.8,1275.2M1176.5,1251.8 L1189.6,1192.0 L1203.4,1104.8M1206.8,1080.7 L1221.0,967.7 L1235.4,831.2M1237.8,807.0 L1252.4,650.1 L1267.0,476.9M1269.0,452.6 L1283.7,268.0 L1298.5,77.5M1300.3,77.5 L1315.1,268.0 L1329.8,452.6M1331.8,476.9 L1346.4,650.1 L1361.0,807.0M1363.4,831.2 L1377.8,967.7 L1392.0,1080.7M1395.4,1104.8 L1409.2,1192.0 L1422.3,1251.8M1429.0,1275.2 L1440.5,1307.1M1471.9,1307.1 L1483.5,1275.2M1490.2,1251.8 L1503.3,1192.0 L1517.1,1104.8M1520.5,1080.7 L1534.6,967.7 L1549.0,831.2M1551.5,807.0 L1566.0,650.1 L1580.7,476.9M1582.7,452.6 L1597.4,268.0 L1612.1,77.5" stroke="#000000" stroke-width="7.0" fill="none"/>
<polygon points="985.7,81.3 972.5,57.3 999.0,57.3" fill="#000000"/>
<polygon points="1017.1,480.7 1003.9,456.7 1030.4,456.7" fill="#000000"/>
<polygon points="1048.5,835.1 1035.2,811.1 1061.7,811.1" fill="#000000"/>
<polygon points="1079.8,1108.8 1066.6,1084.8 1093.1,1084.8" fill="#000000"/>
<polygon points="1111.2,1279.7 1098.0,1255.7 1124.5,1255.7" fill="#000000"/>
<polygon points="1142.6,1337.6 1129.3,1313.6 1155.8,1313.6" fill="#000000"/>
<polygon points="1173.9,1279.7 1160.7,1255.7 1187.2,1255.7" fill="#000000"/>
<polygon points="1205.3,1108.8 1192.1,1084.8 1218.6,1084.8" fill="#000000"/>
<polygon points="1236.7,835.1 1223.4,811.1 1249.9,811.1" fill="#000000"/>
<polygon points="1268.0,480.7 1254.8,456.7 1281.3,456.7" fill="#000000"/>
<polygon points="1299.4,81.3 1286.2,57.3 1312.7,57.3" fill="#000000"/>
<polygon points="1330.8,480.7 1317.5,456.7 1344.0,456.7" fill="#000000"/>
<polygon points="1362.1,835.1 1348.9,811.1 1375.4,811.1" fill="#000000"/>
<polygon points="1393.5,1108.8 1380.2,1084.8 1406.7,1084.8" fill="#000000"/>
<polygon points="1424.9,1279.7 1411.6,1255.7 1438.1,1255.7" fill="#000000"/>
<polygon points="1456.2,1337.6 1443.0,1313.6 1469.5,1313.6" fill="#000000"/>
<polygon points="1487.6,1279.7 1474.3,1255.7 1500.8,1255.7" fill="#000000"/>
<polygon points="1519.0,1108.8 1505.7,1084.8 1532.2,1084.8" fill="#000000"/>
<polygon points="1550.3,835.1 1537.1,811.1 1563.6,811.1" fill="#000000"/>
<polygon points="1581.7,480.7 1568.4,456.7 1594.9,456.7" fill="#000000"/>
<polygon points="1613.1,81.3 1599.8,57.3 1626.3,57.3" fill="#000000"/>
<line x1="280.0" y1="61.8" x2="280.0" y2="1708.6" stroke="#000" stroke-width="7.0"/>
<line x1="276.5" y1="1705.1" x2="2322.3" y2="1705.1" stroke="#000" stroke-width="7.0"/>
<line x1="280.0" y1="1705.1" x2="312.5" y2="1705.1" stroke="#000" stroke-width="7.0"/>
<line x1="280.0" y1="1568.4" x2="297.0" y2="1568.4" stroke="#000" stroke-width="7.0"/>
<line x1="280.0" y1="1431.8" x2="312.5" y2="1431.8" stroke="#000" stroke-width="7.0"/>
<line x1="280.0" y1="1295.1" x2="297.0" y2="1295.1" stroke="#000" stroke-width="7.0"/>
<line x1="280.0" y1="1158.5" x2="312.5" y2="1158.5" stroke="#000" stroke-width="7.0"/>
<line x1="280.0" y1="1021.8" x2="297.0" y2="1021.8" stroke="#000" stroke-width="7.0"/>
<line x1="280.0" y1="885.2" x2="312.5" y2="885.2" stroke="#000" stroke-width="7.0"/>
<line x1="280.0" y1="748.5" x2="297.0" y2="748.5" stroke="#000" stroke-width="7.0"/>
<line x1="280.0" y1="611.9" x2="312.5" y2="611.9" stroke="#000" stroke-width="7.0"/>
<line x1="280.0" y1="475.2" x2="297.0" y2="475.2" stroke="#000" stroke-width="7.0"/>
<line x1="280.0" y1="338.6" x2="312.5" y2="338.6" stroke="#000" stroke-width="7.0"/>
<line x1="280.0" y1="201.9" x2="297.0" y2="201.9" stroke="#000" stroke-width="7.0"/>
<line x1="280.0" y1="65.3" x2="312.5" y2="65.3" stroke="#000" stroke-width="7.0"/>
<line x1="280.0" y1="1705.1" x2="280.0" y2="1672.6" stroke="#000" stroke-width="7.0"/>
<line x1="449.9" y1="1705.1" x2="449.9" y2="1688.1" stroke="#000" stroke-width="7.0"/>
<line x1="619.8" y1="1705.1" x2="619.8" y2="1672.6" stroke="#000" stroke-width="7.0"/>
<line x1="789.7" y1="1705.1" x2="789.7" y2="1688.1" stroke="#000" stroke-width="7.0"/>
<line x1="959.6" y1="1705.1" x2="959.6" y2="1672.6" stroke="#000" stroke-width="7.0"/>
<line x1="1129.5" y1="1705.1" x2="1129.5" y2="1688.1" stroke="#000" stroke-width="7.0"/>
<line x1="1299.4" y1="1705.1" x2="1299.4" y2="1672.6" stroke="#000" stroke-width="7.0"/>
<line x1="1469.3" y1="1705.1" x2="1469.3" y2="1688.1" stroke="#000" stroke-width="7.0"/>
<line x1="1639.2" y1="1705.1" x2="1639.2" y2="1672.6" stroke="#000" stroke-width="7.0"/>
<line x1="1809.1" y1="1705.1" x2="1809.1" y2="1688.1" stroke="#000" stroke-width="7.0"/>
<line x1="1979.0" y1="1705.1" x2="1979.0" y2="1672.6" stroke="#000" stroke-width="7.0"/>
<line x1="2148.9" y1="1705.1" x2="2148.9" y2="1688.1" stroke="#000" stroke-width="7.0"/>
<line x1="2318.8" y1="1705.1" x2="2318.8" y2="1672.6" stroke="#000" stroke-width="7.0"/>
<text x="245" y="97.3" text-anchor="end" font-size="85">0</text>
<text x="245" y="370.6" text-anchor="end" font-size="85">10</text>
<text x="164.0" y="370.6" text-anchor="end" font-size="85">−</text>
<text x="245" y="643.9" text-anchor="end" font-size="85">20</text>
<text x="164.0" y="643.9" text-anchor="end" font-size="85">−</text>
<text x="245" y="917.2" text-anchor="end" font-size="85">30</text>
<text x="164.0" y="917.2" text-anchor="end" font-size="85">−</text>
<text x="245" y="1190.5" text-anchor="end" font-size="85">40</text>
<text x="164.0" y="1190.5" text-anchor="end" font-size="85">−</text>
<text x="245" y="1463.8" text-anchor="end" font-size="85">50</text>
<text x="164.0" y="1463.8" text-anchor="end" font-size="85">−</text>
<text x="245" y="1737.1" text-anchor="end" font-size="85">60</text>
<text x="164.0" y="1737.1" text-anchor="end" font-size="85">−</text>
<text x="200.5 241.5 283.0" y="1811" font-size="85">0.0</text>
<text x="540.3 581.3 622.8" y="1811" font-size="85">0.1</text>
<text x="880.1 921.1 962.6" y="1811" font-size="85">0.2</text>
<text x="1219.9 1260.9 1302.4" y="1811" font-size="85">0.3</text>
<text x="1559.7 1600.7 1642.2" y="1811" font-size="85">0.4</text>
<text x="1899.5 1940.5 1982.0" y="1811" font-size="85">0.5</text>
<text x="2239.3 2280.3 2321.8" y="1811" font-size="85">0.6</text>
<g stroke="#ff0000" stroke-width="7.0" stroke-dasharray="26 32" fill="none"><path d="M366.0,1400.5 L439.5,1400.5"/><path d="M463.9,1400.5 L537.4,1400.5"/></g>
<rect x="442.2" y="1391.0" width="19.0" height="19.0" fill="#ff0000"/>
<g stroke="#ff0000" stroke-width="7.0" stroke-dasharray="26 32" fill="none"><path d="M556.0,1400.5 L629.5,1400.5"/><path d="M653.9,1400.5 L727.4,1400.5"/></g>
<circle cx="641.7" cy="1400.5" r="10.7" fill="#ff0000"/>
<g stroke="#ff0000" stroke-width="7.0" stroke-dasharray="26 32" fill="none"><path d="M746.6,1400.5 L820.0,1400.5"/><path d="M844.4,1400.5 L917.8,1400.5"/></g>
<polygon points="832.2,1385.6 819.2,1407.9 845.2,1407.9" fill="#ff0000"/>
<g stroke="#ff0000" stroke-width="7.0" stroke-dasharray="26 32" fill="none"><path d="M936.2,1400.5 L1009.1,1400.5"/><path d="M1033.5,1400.5 L1106.5,1400.5"/></g>
<polygon points="1021.4,1415.4 1008.4,1393.1 1034.3,1393.1" fill="#ff0000"/>
<text y="1426.8" font-size="78"><tspan x="1125" font-style="italic">s</tspan><tspan x="1156" dy="20" font-style="italic" font-size="52">y</tspan><tspan dy="-20"> </tspan><tspan x="1216" font-style="italic">n</tspan><tspan>= 200/350/500/650</tspan><tspan x="1846.3" font-size="62.5" dy="-4">（</tspan><tspan x="1919" dy="4">r/min</tspan><tspan x="2092" font-size="62.5" dy="-4">）</tspan></text>
<g stroke="#ff00ff" stroke-width="7.0" stroke-dasharray="5.3 29.1" fill="none"><path d="M366.0,1512.3 L439.5,1512.3"/><path d="M463.9,1512.3 L537.4,1512.3"/></g>
<rect x="442.2" y="1502.8" width="19.0" height="19.0" fill="#ff00ff"/>
<g stroke="#ff00ff" stroke-width="7.0" stroke-dasharray="5.3 29.1" fill="none"><path d="M556.0,1512.3 L629.5,1512.3"/><path d="M653.9,1512.3 L727.4,1512.3"/></g>
<circle cx="641.7" cy="1512.3" r="10.7" fill="#ff00ff"/>
<g stroke="#ff00ff" stroke-width="7.0" stroke-dasharray="5.3 29.1" fill="none"><path d="M746.6,1512.3 L820.0,1512.3"/><path d="M844.4,1512.3 L917.8,1512.3"/></g>
<polygon points="832.2,1497.4 819.2,1519.7 845.2,1519.7" fill="#ff00ff"/>
<g stroke="#ff00ff" stroke-width="7.0" stroke-dasharray="5.3 29.1" fill="none"><path d="M936.2,1512.3 L1009.1,1512.3"/><path d="M1033.5,1512.3 L1106.5,1512.3"/></g>
<polygon points="1021.4,1527.2 1008.4,1504.9 1034.3,1504.9" fill="#ff00ff"/>
<text y="1538.8" font-size="78"><tspan x="1125" font-style="italic">s</tspan><tspan x="1156" dy="20" font-style="italic" font-size="52">x</tspan><tspan dy="-20"> </tspan><tspan x="1216" font-style="italic">n</tspan><tspan>= 200/350/500/650</tspan><tspan x="1846.3" font-size="62.5" dy="-4">（</tspan><tspan x="1919" dy="4">r/min</tspan><tspan x="2092" font-size="62.5" dy="-4">）</tspan></text>
<path d="M366.0,1625.4 L439.5,1625.4M463.9,1625.4 L537.4,1625.4" stroke="#000000" stroke-width="7.0" fill="none"/>
<rect x="442.2" y="1615.9" width="19.0" height="19.0" fill="#000000"/>
<path d="M556.0,1625.4 L629.5,1625.4M653.9,1625.4 L727.4,1625.4" stroke="#000000" stroke-width="7.0" fill="none"/>
<circle cx="641.7" cy="1625.4" r="10.7" fill="#000000"/>
<path d="M746.6,1625.4 L820.0,1625.4M844.4,1625.4 L917.8,1625.4" stroke="#000000" stroke-width="7.0" fill="none"/>
<polygon points="832.2,1610.5 819.2,1632.8 845.2,1632.8" fill="#000000"/>
<path d="M936.2,1625.4 L1009.1,1625.4M1033.5,1625.4 L1106.5,1625.4" stroke="#000000" stroke-width="7.0" fill="none"/>
<polygon points="1021.4,1640.3 1008.4,1618.0 1034.3,1618.0" fill="#000000"/>
<text y="1650.2" font-size="78"><tspan x="1125" font-style="italic">s</tspan><tspan x="1216" font-style="italic">n</tspan><tspan>= 200/350/500/650</tspan><tspan x="1846.3" font-size="62.5" dy="-4">（</tspan><tspan x="1919" dy="4">r/min</tspan><tspan x="2092" font-size="62.5" dy="-4">）</tspan></text>
<text transform="translate(84,891.5) rotate(-90)" text-anchor="middle" font-size="86" textLength="639" lengthAdjust="spacingAndGlyphs">Displacement/mm</text>
<text x="1300" y="1933" text-anchor="middle" font-size="85">Time/s</text>
<text x="1200.6" y="2060" text-anchor="middle" font-size="86">(<tspan font-weight="bold">a</tspan>)</text>
<g stroke="#ff0000" stroke-width="7.0" stroke-dasharray="26 32" fill="none"><path d="M302.1,2936.7 L342.0,2930.5"/><path d="M342.0,2930.5 L382.1,2921.5"/><path d="M405.7,2915.4 L446.0,2903.9"/><path d="M446.0,2903.9 L486.5,2890.4"/><path d="M509.5,2882.2 L550.0,2867.0"/><path d="M550.0,2867.0 L590.7,2850.7"/><path d="M613.3,2841.4 L654.0,2824.2"/><path d="M654.0,2824.2 L694.8,2806.6"/><path d="M717.2,2796.9 L758.0,2779.1"/><path d="M758.0,2779.1 L798.9,2761.4"/><path d="M821.3,2751.9 L862.1,2734.7"/><path d="M862.1,2734.7 L902.7,2718.3"/><path d="M925.5,2709.5 L966.1,2694.3"/><path d="M966.1,2694.3 L1006.5,2680.8"/><path d="M1029.8,2673.5 L1070.1,2662.0"/><path d="M1070.1,2662.0 L1110.2,2653.0"/><path d="M1134.1,2648.4 L1174.1,2642.2"/><path d="M1174.1,2642.2 L1213.9,2639.0"/><path d="M1228.1,2650.0 L1278.1,2942.8"/><path d="M1278.1,2942.8 L1317.9,2939.6"/><path d="M1342.2,2936.7 L1382.1,2930.5"/><path d="M1382.1,2930.5 L1422.2,2921.5"/><path d="M1445.8,2915.4 L1486.1,2903.9"/><path d="M1486.1,2903.9 L1526.6,2890.4"/><path d="M1549.6,2882.2 L1590.1,2867.0"/><path d="M1590.1,2867.0 L1630.8,2850.7"/><path d="M1653.4,2841.4 L1694.1,2824.2"/><path d="M1694.1,2824.2 L1734.9,2806.6"/><path d="M1757.3,2796.9 L1798.1,2779.1"/><path d="M1798.1,2779.1 L1839.0,2761.4"/><path d="M1861.4,2751.9 L1902.2,2734.7"/><path d="M1902.2,2734.7 L1942.8,2718.3"/><path d="M1965.6,2709.5 L2006.2,2694.3"/><path d="M2006.2,2694.3 L2046.6,2680.8"/><path d="M2069.9,2673.5 L2110.2,2662.0"/><path d="M2110.2,2662.0 L2150.3,2653.0"/><path d="M2174.2,2648.4 L2214.2,2642.2"/><path d="M2214.2,2642.2 L2254.0,2639.0"/><path d="M2278.4,2638.0 L2318.2,2638.0"/></g>
<rect x="280.0" y="2928.6" width="20.0" height="20.0" fill="#ff0000"/>
<rect x="384.0" y="2908.8" width="20.0" height="20.0" fill="#ff0000"/>
<rect x="488.0" y="2876.5" width="20.0" height="20.0" fill="#ff0000"/>
<rect x="592.0" y="2836.1" width="20.0" height="20.0" fill="#ff0000"/>
<rect x="696.0" y="2791.7" width="20.0" height="20.0" fill="#ff0000"/>
<rect x="800.1" y="2746.6" width="20.0" height="20.0" fill="#ff0000"/>
<rect x="904.1" y="2703.8" width="20.0" height="20.0" fill="#ff0000"/>
<rect x="1008.1" y="2666.9" width="20.0" height="20.0" fill="#ff0000"/>
<rect x="1112.1" y="2640.3" width="20.0" height="20.0" fill="#ff0000"/>
<rect x="1216.1" y="2628.0" width="20.0" height="20.0" fill="#ff0000"/>
<rect x="1320.1" y="2928.6" width="20.0" height="20.0" fill="#ff0000"/>
<rect x="1424.1" y="2908.8" width="20.0" height="20.0" fill="#ff0000"/>
<rect x="1528.1" y="2876.5" width="20.0" height="20.0" fill="#ff0000"/>
<rect x="1632.1" y="2836.1" width="20.0" height="20.0" fill="#ff0000"/>
<rect x="1736.1" y="2791.7" width="20.0" height="20.0" fill="#ff0000"/>
<rect x="1840.2" y="2746.6" width="20.0" height="20.0" fill="#ff0000"/>
<rect x="1944.2" y="2703.8" width="20.0" height="20.0" fill="#ff0000"/>
<rect x="2048.2" y="2666.9" width="20.0" height="20.0" fill="#ff0000"/>
<rect x="2152.2" y="2640.3" width="20.0" height="20.0" fill="#ff0000"/>
<rect x="2256.2" y="2628.0" width="20.0" height="20.0" fill="#ff0000"/>
<g stroke="#ff00ff" stroke-width="7.0" stroke-dasharray="5.3 29.1" fill="none"><path d="M302.2,2842.3 L342.0,2838.9"/><path d="M342.0,2838.9 L381.9,2834.3"/><path d="M406.1,2831.2 L446.0,2825.9"/><path d="M446.0,2825.9 L485.9,2820.2"/><path d="M510.1,2816.9 L550.0,2811.4"/><path d="M550.0,2811.4 L589.9,2806.3"/><path d="M614.2,2803.3 L654.0,2798.7"/><path d="M654.0,2798.7 L693.9,2794.4"/><path d="M718.2,2791.8 L758.0,2787.7"/><path d="M758.0,2787.7 L797.9,2783.4"/><path d="M822.2,2780.7 L862.1,2776.1"/><path d="M862.1,2776.1 L902.0,2771.0"/><path d="M926.2,2767.8 L966.1,2762.3"/><path d="M966.1,2762.3 L1006.0,2756.6"/><path d="M1030.2,2753.3 L1070.1,2747.9"/><path d="M1070.1,2747.9 L1110.0,2743.3"/><path d="M1134.2,2740.9 L1174.1,2737.5"/><path d="M1174.1,2737.5 L1213.9,2735.7"/><path d="M1231.3,2746.1 L1278.1,2845.7"/><path d="M1278.1,2845.7 L1317.9,2843.9"/><path d="M1342.3,2842.3 L1382.1,2838.9"/><path d="M1382.1,2838.9 L1422.0,2834.3"/><path d="M1446.2,2831.2 L1486.1,2825.9"/><path d="M1486.1,2825.9 L1526.0,2820.2"/><path d="M1550.2,2816.9 L1590.1,2811.4"/><path d="M1590.1,2811.4 L1630.0,2806.3"/><path d="M1654.3,2803.3 L1694.1,2798.7"/><path d="M1694.1,2798.7 L1734.0,2794.4"/><path d="M1758.3,2791.8 L1798.1,2787.7"/><path d="M1798.1,2787.7 L1838.0,2783.4"/><path d="M1862.3,2780.7 L1902.2,2776.1"/><path d="M1902.2,2776.1 L1942.1,2771.0"/><path d="M1966.3,2767.8 L2006.2,2762.3"/><path d="M2006.2,2762.3 L2046.1,2756.6"/><path d="M2070.3,2753.3 L2110.2,2747.9"/><path d="M2110.2,2747.9 L2150.1,2743.3"/><path d="M2174.3,2740.9 L2214.2,2737.5"/><path d="M2214.2,2737.5 L2254.0,2735.7"/><path d="M2278.4,2735.1 L2318.2,2735.1"/></g>
<rect x="280.0" y="2833.3" width="20.0" height="20.0" fill="#ff00ff"/>
<rect x="384.0" y="2822.9" width="20.0" height="20.0" fill="#ff00ff"/>
<rect x="488.0" y="2808.5" width="20.0" height="20.0" fill="#ff00ff"/>
<rect x="592.0" y="2794.7" width="20.0" height="20.0" fill="#ff00ff"/>
<rect x="696.0" y="2783.1" width="20.0" height="20.0" fill="#ff00ff"/>
<rect x="800.1" y="2772.1" width="20.0" height="20.0" fill="#ff00ff"/>
<rect x="904.1" y="2759.4" width="20.0" height="20.0" fill="#ff00ff"/>
<rect x="1008.1" y="2744.9" width="20.0" height="20.0" fill="#ff00ff"/>
<rect x="1112.1" y="2731.9" width="20.0" height="20.0" fill="#ff00ff"/>
<rect x="1216.1" y="2725.1" width="20.0" height="20.0" fill="#ff00ff"/>
<rect x="1320.1" y="2833.3" width="20.0" height="20.0" fill="#ff00ff"/>
<rect x="1424.1" y="2822.9" width="20.0" height="20.0" fill="#ff00ff"/>
<rect x="1528.1" y="2808.5" width="20.0" height="20.0" fill="#ff00ff"/>
<rect x="1632.1" y="2794.7" width="20.0" height="20.0" fill="#ff00ff"/>
<rect x="1736.1" y="2783.1" width="20.0" height="20.0" fill="#ff00ff"/>
<rect x="1840.2" y="2772.1" width="20.0" height="20.0" fill="#ff00ff"/>
<rect x="1944.2" y="2759.4" width="20.0" height="20.0" fill="#ff00ff"/>
<rect x="2048.2" y="2744.9" width="20.0" height="20.0" fill="#ff00ff"/>
<rect x="2152.2" y="2731.9" width="20.0" height="20.0" fill="#ff00ff"/>
<rect x="2256.2" y="2725.1" width="20.0" height="20.0" fill="#ff00ff"/>
<path d="M302.0,2945.7 L342.0,2938.6 L382.2,2928.6M405.7,2921.9 L446.0,2909.3 L486.6,2894.6M509.4,2885.9 L550.0,2869.7 L590.8,2852.5M613.2,2842.9 L654.0,2825.1 L694.9,2807.0M717.2,2797.0 L758.0,2778.8 L798.9,2760.6M821.2,2750.8 L862.1,2733.0 L902.8,2715.8M925.4,2706.6 L966.1,2690.4 L1006.6,2675.7M1029.7,2667.9 L1070.1,2655.2 L1110.3,2645.1M1134.1,2640.0 L1174.1,2633.0 L1213.9,2629.4M1228.0,2640.3 L1278.1,2952.5 L1318.0,2948.9M1342.1,2945.7 L1382.1,2938.6 L1422.3,2928.6M1445.8,2921.9 L1486.1,2909.3 L1526.7,2894.6M1549.5,2885.9 L1590.1,2869.7 L1630.9,2852.5M1653.3,2842.9 L1694.1,2825.1 L1735.0,2807.0M1757.3,2797.0 L1798.1,2778.8 L1839.0,2760.6M1861.3,2750.8 L1902.2,2733.0 L1942.9,2715.8M1965.5,2706.6 L2006.2,2690.4 L2046.7,2675.7M2069.8,2667.9 L2110.2,2655.2 L2150.4,2645.1M2174.2,2640.0 L2214.2,2633.0 L2254.0,2629.4M2278.4,2628.3 L2318.2,2628.3" stroke="#000000" stroke-width="7.0" fill="none"/>
<rect x="280.0" y="2937.8" width="20.0" height="20.0" fill="#000000"/>
<rect x="384.0" y="2915.6" width="20.0" height="20.0" fill="#000000"/>
<rect x="488.0" y="2880.4" width="20.0" height="20.0" fill="#000000"/>
<rect x="592.0" y="2837.8" width="20.0" height="20.0" fill="#000000"/>
<rect x="696.0" y="2792.0" width="20.0" height="20.0" fill="#000000"/>
<rect x="800.1" y="2745.7" width="20.0" height="20.0" fill="#000000"/>
<rect x="904.1" y="2701.1" width="20.0" height="20.0" fill="#000000"/>
<rect x="1008.1" y="2661.5" width="20.0" height="20.0" fill="#000000"/>
<rect x="1112.1" y="2632.2" width="20.0" height="20.0" fill="#000000"/>
<rect x="1216.1" y="2618.3" width="20.0" height="20.0" fill="#000000"/>
<rect x="1320.1" y="2937.8" width="20.0" height="20.0" fill="#000000"/>
<rect x="1424.1" y="2915.6" width="20.0" height="20.0" fill="#000000"/>
<rect x="1528.1" y="2880.4" width="20.0" height="20.0" fill="#000000"/>
<rect x="1632.1" y="2837.8" width="20.0" height="20.0" fill="#000000"/>
<rect x="1736.1" y="2792.0" width="20.0" height="20.0" fill="#000000"/>
<rect x="1840.2" y="2745.7" width="20.0" height="20.0" fill="#000000"/>
<rect x="1944.2" y="2701.1" width="20.0" height="20.0" fill="#000000"/>
<rect x="2048.2" y="2661.5" width="20.0" height="20.0" fill="#000000"/>
<rect x="2152.2" y="2632.2" width="20.0" height="20.0" fill="#000000"/>
<rect x="2256.2" y="2618.3" width="20.0" height="20.0" fill="#000000"/>
<g stroke="#ff0000" stroke-width="7.0" stroke-dasharray="26 32" fill="none"><path d="M724.5,3044.5 L743.2,3035.6"/><path d="M743.2,3035.6 L762.9,3022.0"/><path d="M782.1,3007.0 L802.6,2989.1"/><path d="M802.6,2989.1 L823.8,2967.3"/><path d="M840.4,2949.4 L862.1,2924.5"/><path d="M862.1,2924.5 L884.1,2897.4"/><path d="M899.3,2878.3 L921.5,2849.6"/><path d="M921.5,2849.6 L943.9,2820.0"/><path d="M958.5,2800.5 L980.9,2770.6"/><path d="M980.9,2770.6 L1003.3,2741.0"/><path d="M1018.1,2721.6 L1040.4,2692.9"/><path d="M1040.4,2692.9 L1062.4,2665.8"/><path d="M1078.1,2647.1 L1099.8,2622.3"/><path d="M1099.8,2622.3 L1121.0,2600.5"/><path d="M1138.7,2583.7 L1159.2,2565.7"/><path d="M1159.2,2565.7 L1178.9,2552.2"/><path d="M1200.0,2540.0 L1218.7,2531.0"/><path d="M1249.1,2535.9 L1278.1,3057.1"/><path d="M1318.8,3044.5 L1337.5,3035.6"/><path d="M1337.5,3035.6 L1357.2,3022.0"/><path d="M1376.4,3007.0 L1397.0,2989.1"/><path d="M1397.0,2989.1 L1418.2,2967.3"/><path d="M1434.7,2949.4 L1456.4,2924.5"/><path d="M1456.4,2924.5 L1478.4,2897.4"/><path d="M1493.6,2878.3 L1515.8,2849.6"/><path d="M1515.8,2849.6 L1538.2,2820.0"/><path d="M1552.9,2800.5 L1575.3,2770.6"/><path d="M1575.3,2770.6 L1597.6,2741.0"/><path d="M1612.5,2721.6 L1634.7,2692.9"/><path d="M1634.7,2692.9 L1656.7,2665.8"/><path d="M1672.4,2647.1 L1694.1,2622.3"/><path d="M1694.1,2622.3 L1715.3,2600.5"/><path d="M1733.0,2583.7 L1753.6,2565.7"/><path d="M1753.6,2565.7 L1773.3,2552.2"/><path d="M1794.3,2540.0 L1813.0,2531.0"/></g>
<circle cx="713.5" cy="3049.8" r="11.2" fill="#ff0000"/>
<circle cx="772.9" cy="3015.1" r="11.2" fill="#ff0000"/>
<circle cx="832.3" cy="2958.5" r="11.2" fill="#ff0000"/>
<circle cx="891.8" cy="2887.9" r="11.2" fill="#ff0000"/>
<circle cx="951.2" cy="2810.2" r="11.2" fill="#ff0000"/>
<circle cx="1010.6" cy="2731.2" r="11.2" fill="#ff0000"/>
<circle cx="1070.1" cy="2656.3" r="11.2" fill="#ff0000"/>
<circle cx="1129.5" cy="2591.7" r="11.2" fill="#ff0000"/>
<circle cx="1188.9" cy="2545.2" r="11.2" fill="#ff0000"/>
<circle cx="1248.4" cy="2523.7" r="11.2" fill="#ff0000"/>
<circle cx="1307.8" cy="3049.8" r="11.2" fill="#ff0000"/>
<circle cx="1367.3" cy="3015.1" r="11.2" fill="#ff0000"/>
<circle cx="1426.7" cy="2958.5" r="11.2" fill="#ff0000"/>
<circle cx="1486.1" cy="2887.9" r="11.2" fill="#ff0000"/>
<circle cx="1545.6" cy="2810.2" r="11.2" fill="#ff0000"/>
<circle cx="1605.0" cy="2731.2" r="11.2" fill="#ff0000"/>
<circle cx="1664.4" cy="2656.3" r="11.2" fill="#ff0000"/>
<circle cx="1723.9" cy="2591.7" r="11.2" fill="#ff0000"/>
<circle cx="1783.3" cy="2545.2" r="11.2" fill="#ff0000"/>
<circle cx="1842.7" cy="2523.7" r="11.2" fill="#ff0000"/>
<g stroke="#ff00ff" stroke-width="7.0" stroke-dasharray="5.3 29.1" fill="none"><path d="M743.2,2875.3 L761.4,2868.8"/><path d="M784.2,2860.1 L802.6,2852.5"/><path d="M802.6,2852.5 L821.1,2844.5"/><path d="M843.6,2834.9 L862.1,2827.1"/><path d="M862.1,2827.1 L880.4,2819.9"/><path d="M903.3,2811.4 L921.5,2804.9"/><path d="M921.5,2804.9 L939.6,2798.9"/><path d="M962.8,2791.4 L980.9,2785.7"/><path d="M980.9,2785.7 L999.1,2779.7"/><path d="M1022.1,2771.8 L1040.4,2765.3"/><path d="M1040.4,2765.3 L1058.7,2758.1"/><path d="M1081.3,2748.9 L1099.8,2741.2"/><path d="M1099.8,2741.2 L1118.3,2733.2"/><path d="M1140.8,2723.7 L1159.2,2716.1"/><path d="M1159.2,2716.1 L1177.5,2709.6"/><path d="M1250.2,2705.7 L1278.1,2887.2"/><path d="M1337.5,2875.3 L1355.8,2868.8"/><path d="M1378.5,2860.1 L1397.0,2852.5"/><path d="M1397.0,2852.5 L1415.5,2844.5"/><path d="M1437.9,2834.9 L1456.4,2827.1"/><path d="M1456.4,2827.1 L1474.8,2819.9"/><path d="M1497.6,2811.4 L1515.8,2804.9"/><path d="M1515.8,2804.9 L1534.0,2798.9"/><path d="M1557.2,2791.4 L1575.3,2785.7"/><path d="M1575.3,2785.7 L1593.4,2779.7"/><path d="M1616.5,2771.8 L1634.7,2765.3"/><path d="M1634.7,2765.3 L1653.1,2758.1"/><path d="M1675.7,2748.9 L1694.1,2741.2"/><path d="M1694.1,2741.2 L1712.7,2733.2"/><path d="M1735.1,2723.7 L1753.6,2716.1"/><path d="M1753.6,2716.1 L1771.8,2709.6"/></g>
<circle cx="713.5" cy="2883.0" r="11.2" fill="#ff00ff"/>
<circle cx="772.9" cy="2864.7" r="11.2" fill="#ff00ff"/>
<circle cx="832.3" cy="2839.6" r="11.2" fill="#ff00ff"/>
<circle cx="891.8" cy="2815.5" r="11.2" fill="#ff00ff"/>
<circle cx="951.2" cy="2795.1" r="11.2" fill="#ff00ff"/>
<circle cx="1010.6" cy="2775.9" r="11.2" fill="#ff00ff"/>
<circle cx="1070.1" cy="2753.7" r="11.2" fill="#ff00ff"/>
<circle cx="1129.5" cy="2728.3" r="11.2" fill="#ff00ff"/>
<circle cx="1188.9" cy="2705.5" r="11.2" fill="#ff00ff"/>
<circle cx="1248.4" cy="2693.6" r="11.2" fill="#ff00ff"/>
<circle cx="1307.8" cy="2883.0" r="11.2" fill="#ff00ff"/>
<circle cx="1367.3" cy="2864.7" r="11.2" fill="#ff00ff"/>
<circle cx="1426.7" cy="2839.6" r="11.2" fill="#ff00ff"/>
<circle cx="1486.1" cy="2815.5" r="11.2" fill="#ff00ff"/>
<circle cx="1545.6" cy="2795.1" r="11.2" fill="#ff00ff"/>
<circle cx="1605.0" cy="2775.9" r="11.2" fill="#ff00ff"/>
<circle cx="1664.4" cy="2753.7" r="11.2" fill="#ff00ff"/>
<circle cx="1723.9" cy="2728.3" r="11.2" fill="#ff00ff"/>
<circle cx="1783.3" cy="2705.5" r="11.2" fill="#ff00ff"/>
<circle cx="1842.7" cy="2693.6" r="11.2" fill="#ff00ff"/>
<path d="M724.2,3060.1 L743.2,3049.8 L763.2,3034.4M781.7,3018.5 L802.6,2998.4 L824.2,2974.5M840.1,2956.0 L862.1,2929.2 L884.3,2900.5M899.1,2881.1 L921.5,2851.1 L944.0,2820.5M958.4,2800.9 L980.9,2770.1 L1003.4,2739.5M1018.0,2719.9 L1040.4,2689.9 L1062.6,2661.2M1077.8,2642.1 L1099.8,2615.4 L1121.3,2591.4M1138.3,2573.9 L1159.2,2553.8 L1179.3,2538.4M1199.7,2525.2 L1218.7,2515.0M1249.0,2518.9 L1278.1,3074.1M1318.6,3060.1 L1337.5,3049.8 L1357.6,3034.4M1376.0,3018.5 L1397.0,2998.4 L1418.5,2974.5M1434.4,2956.0 L1456.4,2929.2 L1478.7,2900.5M1493.4,2881.1 L1515.8,2851.1 L1538.3,2820.5M1552.8,2800.9 L1575.3,2770.1 L1597.8,2739.5M1612.3,2719.9 L1634.7,2689.9 L1657.0,2661.2M1672.2,2642.1 L1694.1,2615.4 L1715.7,2591.4M1732.7,2573.9 L1753.6,2553.8 L1773.6,2538.4M1794.0,2525.2 L1813.0,2515.0" stroke="#000000" stroke-width="7.0" fill="none"/>
<circle cx="713.5" cy="3065.8" r="11.2" fill="#000000"/>
<circle cx="772.9" cy="3027.0" r="11.2" fill="#000000"/>
<circle cx="832.3" cy="2965.4" r="11.2" fill="#000000"/>
<circle cx="891.8" cy="2890.9" r="11.2" fill="#000000"/>
<circle cx="951.2" cy="2810.7" r="11.2" fill="#000000"/>
<circle cx="1010.6" cy="2729.7" r="11.2" fill="#000000"/>
<circle cx="1070.1" cy="2651.6" r="11.2" fill="#000000"/>
<circle cx="1129.5" cy="2582.4" r="11.2" fill="#000000"/>
<circle cx="1188.9" cy="2531.0" r="11.2" fill="#000000"/>
<circle cx="1248.4" cy="2506.7" r="11.2" fill="#000000"/>
<circle cx="1307.8" cy="3065.8" r="11.2" fill="#000000"/>
<circle cx="1367.3" cy="3027.0" r="11.2" fill="#000000"/>
<circle cx="1426.7" cy="2965.4" r="11.2" fill="#000000"/>
<circle cx="1486.1" cy="2890.9" r="11.2" fill="#000000"/>
<circle cx="1545.6" cy="2810.7" r="11.2" fill="#000000"/>
<circle cx="1605.0" cy="2729.7" r="11.2" fill="#000000"/>
<circle cx="1664.4" cy="2651.6" r="11.2" fill="#000000"/>
<circle cx="1723.9" cy="2582.4" r="11.2" fill="#000000"/>
<circle cx="1783.3" cy="2531.0" r="11.2" fill="#000000"/>
<circle cx="1842.7" cy="2506.7" r="11.2" fill="#000000"/>
<g stroke="#ff0000" stroke-width="7.0" stroke-dasharray="26 32" fill="none"><path d="M903.7,3140.7 L917.4,3121.3"/><path d="M930.4,3100.7 L945.3,3074.2"/><path d="M945.3,3074.2 L960.8,3041.6"/><path d="M970.9,3019.4 L986.9,2982.0"/><path d="M986.9,2982.0 L1003.2,2941.0"/><path d="M1012.0,2918.3 L1028.5,2874.9"/><path d="M1028.5,2874.9 L1045.0,2830.2"/><path d="M1053.5,2807.3 L1070.1,2762.1"/><path d="M1070.1,2762.1 L1086.6,2717.3"/><path d="M1095.2,2694.5 L1111.7,2651.1"/><path d="M1111.7,2651.1 L1128.0,2610.2"/><path d="M1137.3,2587.6 L1153.3,2550.2"/><path d="M1153.3,2550.2 L1168.8,2517.6"/><path d="M1180.1,2496.0 L1194.9,2469.5"/><path d="M1194.9,2469.5 L1208.6,2450.1"/><path d="M1257.6,2421.7 L1278.1,3171.3"/><path d="M1319.7,3140.7 L1333.4,3121.3"/><path d="M1346.5,3100.7 L1361.3,3074.2"/><path d="M1361.3,3074.2 L1376.9,3041.6"/><path d="M1386.9,3019.4 L1402.9,2982.0"/><path d="M1402.9,2982.0 L1419.2,2941.0"/><path d="M1428.0,2918.3 L1444.5,2874.9"/><path d="M1444.5,2874.9 L1461.1,2830.2"/><path d="M1469.5,2807.3 L1486.1,2762.1"/><path d="M1486.1,2762.1 L1502.7,2717.3"/><path d="M1511.3,2694.5 L1527.7,2651.1"/><path d="M1527.7,2651.1 L1544.0,2610.2"/><path d="M1553.3,2587.6 L1569.3,2550.2"/><path d="M1569.3,2550.2 L1584.9,2517.6"/><path d="M1596.1,2496.0 L1610.9,2469.5"/><path d="M1610.9,2469.5 L1624.7,2450.1"/></g>
<polygon points="882.9,3145.0 869.6,3169.0 896.1,3169.0" fill="#ff0000"/>
<polygon points="924.5,3095.3 911.2,3119.3 937.7,3119.3" fill="#ff0000"/>
<polygon points="966.1,3014.6 952.8,3038.6 979.3,3038.6" fill="#ff0000"/>
<polygon points="1007.7,2913.7 994.4,2937.7 1020.9,2937.7" fill="#ff0000"/>
<polygon points="1049.3,2802.7 1036.0,2826.7 1062.5,2826.7" fill="#ff0000"/>
<polygon points="1090.9,2689.9 1077.6,2713.9 1104.1,2713.9" fill="#ff0000"/>
<polygon points="1132.5,2582.8 1119.2,2606.8 1145.7,2606.8" fill="#ff0000"/>
<polygon points="1174.1,2490.6 1160.8,2514.6 1187.3,2514.6" fill="#ff0000"/>
<polygon points="1215.7,2424.1 1202.4,2448.1 1228.9,2448.1" fill="#ff0000"/>
<polygon points="1257.3,2393.5 1244.0,2417.5 1270.5,2417.5" fill="#ff0000"/>
<polygon points="1298.9,3145.0 1285.7,3169.0 1312.2,3169.0" fill="#ff0000"/>
<polygon points="1340.5,3095.3 1327.3,3119.3 1353.8,3119.3" fill="#ff0000"/>
<polygon points="1382.1,3014.6 1368.9,3038.6 1395.4,3038.6" fill="#ff0000"/>
<polygon points="1423.7,2913.7 1410.5,2937.7 1437.0,2937.7" fill="#ff0000"/>
<polygon points="1465.3,2802.7 1452.1,2826.7 1478.6,2826.7" fill="#ff0000"/>
<polygon points="1506.9,2689.9 1493.7,2713.9 1520.2,2713.9" fill="#ff0000"/>
<polygon points="1548.5,2582.8 1535.3,2606.8 1561.8,2606.8" fill="#ff0000"/>
<polygon points="1590.1,2490.6 1576.9,2514.6 1603.4,2514.6" fill="#ff0000"/>
<polygon points="1631.7,2424.1 1618.5,2448.1 1645.0,2448.1" fill="#ff0000"/>
<polygon points="1673.3,2393.5 1660.1,2417.5 1686.6,2417.5" fill="#ff0000"/>
<g stroke="#ff00ff" stroke-width="7.0" stroke-dasharray="5.3 29.1" fill="none"><path d="M1258.2,2664.3 L1278.1,2928.6"/></g>
<polygon points="882.9,2906.7 869.6,2930.7 896.1,2930.7" fill="#ff00ff"/>
<polygon points="924.5,2880.6 911.2,2904.6 937.7,2904.6" fill="#ff00ff"/>
<polygon points="966.1,2844.7 952.8,2868.7 979.3,2868.7" fill="#ff00ff"/>
<polygon points="1007.7,2810.3 994.4,2834.3 1020.9,2834.3" fill="#ff00ff"/>
<polygon points="1049.3,2781.2 1036.0,2805.2 1062.5,2805.2" fill="#ff00ff"/>
<polygon points="1090.9,2753.7 1077.6,2777.7 1104.1,2777.7" fill="#ff00ff"/>
<polygon points="1132.5,2721.9 1119.2,2745.9 1145.7,2745.9" fill="#ff00ff"/>
<polygon points="1174.1,2685.7 1160.8,2709.7 1187.3,2709.7" fill="#ff00ff"/>
<polygon points="1215.7,2653.2 1202.4,2677.2 1228.9,2677.2" fill="#ff00ff"/>
<polygon points="1257.3,2636.2 1244.0,2660.2 1270.5,2660.2" fill="#ff00ff"/>
<polygon points="1298.9,2906.7 1285.7,2930.7 1312.2,2930.7" fill="#ff00ff"/>
<polygon points="1340.5,2880.6 1327.3,2904.6 1353.8,2904.6" fill="#ff00ff"/>
<polygon points="1382.1,2844.7 1368.9,2868.7 1395.4,2868.7" fill="#ff00ff"/>
<polygon points="1423.7,2810.3 1410.5,2834.3 1437.0,2834.3" fill="#ff00ff"/>
<polygon points="1465.3,2781.2 1452.1,2805.2 1478.6,2805.2" fill="#ff00ff"/>
<polygon points="1506.9,2753.7 1493.7,2777.7 1520.2,2777.7" fill="#ff00ff"/>
<polygon points="1548.5,2721.9 1535.3,2745.9 1561.8,2745.9" fill="#ff00ff"/>
<polygon points="1590.1,2685.7 1576.9,2709.7 1603.4,2709.7" fill="#ff00ff"/>
<polygon points="1631.7,2653.2 1618.5,2677.2 1645.0,2677.2" fill="#ff00ff"/>
<polygon points="1673.3,2636.2 1660.1,2660.2 1686.6,2660.2" fill="#ff00ff"/>
<path d="M903.7,3161.0 L917.9,3138.7M930.0,3117.5 L945.3,3087.6 L961.1,3051.6M970.6,3029.1 L986.9,2988.7 L1003.3,2945.3M1011.9,2922.5 L1028.5,2877.2 L1045.1,2830.9M1053.4,2807.9 L1070.1,2761.4 L1086.7,2715.1M1095.1,2692.2 L1111.7,2646.9 L1128.2,2603.5M1137.0,2580.7 L1153.3,2540.3 L1169.2,2504.4M1179.6,2482.4 L1194.9,2452.4 L1209.1,2430.1M1257.6,2397.3 L1278.1,3195.6M1319.7,3161.0 L1334.0,3138.7M1346.0,3117.5 L1361.3,3087.6 L1377.2,3051.6M1386.7,3029.1 L1402.9,2988.7 L1419.4,2945.3M1427.9,2922.5 L1444.5,2877.2 L1461.2,2830.9M1469.4,2807.9 L1486.1,2761.4 L1502.8,2715.1M1511.1,2692.2 L1527.7,2646.9 L1544.2,2603.5M1553.1,2580.7 L1569.3,2540.3 L1585.2,2504.4M1595.7,2482.4 L1610.9,2452.4 L1625.2,2430.1" stroke="#000000" stroke-width="7.0" fill="none"/>
<polygon points="882.9,3167.9 869.6,3191.9 896.1,3191.9" fill="#000000"/>
<polygon points="924.5,3112.4 911.2,3136.4 937.7,3136.4" fill="#000000"/>
<polygon points="966.1,3024.5 952.8,3048.5 979.3,3048.5" fill="#000000"/>
<polygon points="1007.7,2917.9 994.4,2941.9 1020.9,2941.9" fill="#000000"/>
<polygon points="1049.3,2803.4 1036.0,2827.4 1062.5,2827.4" fill="#000000"/>
<polygon points="1090.9,2687.6 1077.6,2711.6 1104.1,2711.6" fill="#000000"/>
<polygon points="1132.5,2576.1 1119.2,2600.1 1145.7,2600.1" fill="#000000"/>
<polygon points="1174.1,2477.2 1160.8,2501.2 1187.3,2501.2" fill="#000000"/>
<polygon points="1215.7,2403.8 1202.4,2427.8 1228.9,2427.8" fill="#000000"/>
<polygon points="1257.3,2369.2 1244.0,2393.2 1270.5,2393.2" fill="#000000"/>
<polygon points="1298.9,3167.9 1285.7,3191.9 1312.2,3191.9" fill="#000000"/>
<polygon points="1340.5,3112.4 1327.3,3136.4 1353.8,3136.4" fill="#000000"/>
<polygon points="1382.1,3024.5 1368.9,3048.5 1395.4,3048.5" fill="#000000"/>
<polygon points="1423.7,2917.9 1410.5,2941.9 1437.0,2941.9" fill="#000000"/>
<polygon points="1465.3,2803.4 1452.1,2827.4 1478.6,2827.4" fill="#000000"/>
<polygon points="1506.9,2687.6 1493.7,2711.6 1520.2,2711.6" fill="#000000"/>
<polygon points="1548.5,2576.1 1535.3,2600.1 1561.8,2600.1" fill="#000000"/>
<polygon points="1590.1,2477.2 1576.9,2501.2 1603.4,2501.2" fill="#000000"/>
<polygon points="1631.7,2403.8 1618.5,2427.8 1645.0,2427.8" fill="#000000"/>
<polygon points="1673.3,2369.2 1660.1,2393.2 1686.6,2393.2" fill="#000000"/>
<g stroke="#ff0000" stroke-width="7.0" stroke-dasharray="26 32" fill="none"><path d="M990.1,3245.7 L1001.4,3218.9"/><path d="M1009.9,3196.0 L1022.1,3159.3"/><path d="M1022.1,3159.3 L1034.8,3114.4"/><path d="M1041.1,3090.8 L1054.1,3039.5"/><path d="M1054.1,3039.5 L1067.3,2983.3"/><path d="M1072.8,2959.6 L1086.1,2900.3"/><path d="M1086.1,2900.3 L1099.5,2839.1"/><path d="M1104.7,2815.3 L1118.1,2753.6"/><path d="M1118.1,2753.6 L1131.5,2692.5"/><path d="M1136.8,2668.6 L1150.1,2609.3"/><path d="M1150.1,2609.3 L1163.3,2553.2"/><path d="M1169.1,2529.5 L1182.1,2478.1"/><path d="M1182.1,2478.1 L1194.8,2433.2"/><path d="M1201.9,2409.9 L1214.1,2373.2"/><path d="M1214.1,2373.2 L1225.4,2346.3"/><path d="M1262.3,2307.4 L1278.1,3285.6"/><path d="M1310.1,3245.7 L1321.4,3218.9"/><path d="M1329.9,3196.0 L1342.1,3159.3"/><path d="M1342.1,3159.3 L1354.8,3114.4"/><path d="M1361.1,3090.8 L1374.1,3039.5"/><path d="M1374.1,3039.5 L1387.3,2983.3"/><path d="M1392.8,2959.6 L1406.1,2900.3"/><path d="M1406.1,2900.3 L1419.5,2839.1"/><path d="M1424.7,2815.3 L1438.1,2753.6"/><path d="M1438.1,2753.6 L1451.5,2692.5"/><path d="M1456.8,2668.6 L1470.1,2609.3"/><path d="M1470.1,2609.3 L1483.3,2553.2"/><path d="M1489.1,2529.5 L1502.1,2478.1"/><path d="M1502.1,2478.1 L1514.8,2433.2"/><path d="M1521.5,2409.7 L1546.8,2320.4"/></g>
<polygon points="974.1,3288.1 960.8,3264.1 987.3,3264.1" fill="#ff0000"/>
<polygon points="1006.1,3223.6 992.8,3199.6 1019.3,3199.6" fill="#ff0000"/>
<polygon points="1038.1,3118.7 1024.8,3094.7 1051.3,3094.7" fill="#ff0000"/>
<polygon points="1070.1,2987.5 1056.8,2963.5 1083.3,2963.5" fill="#ff0000"/>
<polygon points="1102.1,2843.2 1088.8,2819.2 1115.3,2819.2" fill="#ff0000"/>
<polygon points="1134.1,2696.5 1120.8,2672.5 1147.3,2672.5" fill="#ff0000"/>
<polygon points="1166.1,2557.3 1152.8,2533.3 1179.3,2533.3" fill="#ff0000"/>
<polygon points="1198.1,2437.5 1184.8,2413.5 1211.3,2413.5" fill="#ff0000"/>
<polygon points="1230.1,2351.1 1216.8,2327.1 1243.3,2327.1" fill="#ff0000"/>
<polygon points="1262.1,2311.2 1248.8,2287.2 1275.3,2287.2" fill="#ff0000"/>
<polygon points="1294.1,3288.1 1280.9,3264.1 1307.4,3264.1" fill="#ff0000"/>
<polygon points="1326.1,3223.6 1312.9,3199.6 1339.4,3199.6" fill="#ff0000"/>
<polygon points="1358.1,3118.7 1344.9,3094.7 1371.4,3094.7" fill="#ff0000"/>
<polygon points="1390.1,2987.5 1376.9,2963.5 1403.4,2963.5" fill="#ff0000"/>
<polygon points="1422.1,2843.2 1408.9,2819.2 1435.4,2819.2" fill="#ff0000"/>
<polygon points="1454.1,2696.5 1440.9,2672.5 1467.4,2672.5" fill="#ff0000"/>
<polygon points="1486.1,2557.3 1472.9,2533.3 1499.4,2533.3" fill="#ff0000"/>
<polygon points="1518.1,2437.5 1504.9,2413.5 1531.4,2413.5" fill="#ff0000"/>
<polygon points="1550.1,2324.7 1536.9,2300.7 1563.4,2300.7" fill="#ff0000"/>
<g stroke="#ff00ff" stroke-width="7.0" stroke-dasharray="5.3 29.1" fill="none"><path d="M1262.6,2622.9 L1278.1,2970.1"/><path d="M1524.1,2664.5 L1544.1,2629.0"/></g>
<polygon points="974.1,2978.4 960.8,2954.4 987.3,2954.4" fill="#ff00ff"/>
<polygon points="1006.1,2944.4 992.8,2920.4 1019.3,2920.4" fill="#ff00ff"/>
<polygon points="1038.1,2897.8 1024.8,2873.8 1051.3,2873.8" fill="#ff00ff"/>
<polygon points="1070.1,2853.0 1056.8,2829.0 1083.3,2829.0" fill="#ff00ff"/>
<polygon points="1102.1,2815.2 1088.8,2791.2 1115.3,2791.2" fill="#ff00ff"/>
<polygon points="1134.1,2779.4 1120.8,2755.4 1147.3,2755.4" fill="#ff00ff"/>
<polygon points="1166.1,2738.2 1152.8,2714.2 1179.3,2714.2" fill="#ff00ff"/>
<polygon points="1198.1,2691.1 1184.8,2667.1 1211.3,2667.1" fill="#ff00ff"/>
<polygon points="1230.1,2648.8 1216.8,2624.8 1243.3,2624.8" fill="#ff00ff"/>
<polygon points="1262.1,2626.7 1248.8,2602.7 1275.3,2602.7" fill="#ff00ff"/>
<polygon points="1294.1,2978.4 1280.9,2954.4 1307.4,2954.4" fill="#ff00ff"/>
<polygon points="1326.1,2944.4 1312.9,2920.4 1339.4,2920.4" fill="#ff00ff"/>
<polygon points="1358.1,2897.8 1344.9,2873.8 1371.4,2873.8" fill="#ff00ff"/>
<polygon points="1390.1,2853.0 1376.9,2829.0 1403.4,2829.0" fill="#ff00ff"/>
<polygon points="1422.1,2815.2 1408.9,2791.2 1435.4,2791.2" fill="#ff00ff"/>
<polygon points="1454.1,2779.4 1440.9,2755.4 1467.4,2755.4" fill="#ff00ff"/>
<polygon points="1486.1,2738.2 1472.9,2714.2 1499.4,2714.2" fill="#ff00ff"/>
<polygon points="1518.1,2691.1 1504.9,2667.1 1531.4,2667.1" fill="#ff00ff"/>
<polygon points="1550.1,2634.4 1536.9,2610.4 1563.4,2610.4" fill="#ff00ff"/>
<path d="M979.9,3291.2 L990.1,3272.2 L1001.8,3241.2M1009.6,3218.1 L1022.1,3176.7 L1035.0,3127.3M1040.9,3103.6 L1054.1,3048.2 L1067.4,2988.9M1072.7,2965.0 L1086.1,2903.2 L1099.5,2840.1M1104.6,2816.2 L1118.1,2752.7 L1131.5,2689.5M1136.7,2665.7 L1150.1,2603.8 L1163.4,2544.5M1168.9,2520.7 L1182.1,2465.3 L1195.0,2415.9M1201.6,2392.4 L1214.1,2351.0 L1225.8,2320.0M1235.9,2297.8 L1246.1,2278.9M1262.3,2275.8 L1278.1,3317.2M1299.9,3291.2 L1310.1,3272.2 L1321.8,3241.2M1329.6,3218.1 L1342.1,3176.7 L1355.0,3127.3M1360.9,3103.6 L1374.1,3048.2 L1387.4,2988.9M1392.7,2965.0 L1406.1,2903.2 L1419.6,2840.1M1424.6,2816.2 L1438.1,2752.7 L1451.6,2689.5M1456.7,2665.7 L1470.1,2603.8 L1483.4,2544.5M1488.9,2520.7 L1502.1,2465.3 L1515.0,2415.9M1521.1,2392.2 L1547.1,2290.7" stroke="#000000" stroke-width="7.0" fill="none"/>
<polygon points="974.1,3317.9 960.8,3293.9 987.3,3293.9" fill="#000000"/>
<polygon points="1006.1,3245.8 992.8,3221.8 1019.3,3221.8" fill="#000000"/>
<polygon points="1038.1,3131.5 1024.8,3107.5 1051.3,3107.5" fill="#000000"/>
<polygon points="1070.1,2993.0 1056.8,2969.0 1083.3,2969.0" fill="#000000"/>
<polygon points="1102.1,2844.1 1088.8,2820.1 1115.3,2820.1" fill="#000000"/>
<polygon points="1134.1,2693.6 1120.8,2669.6 1147.3,2669.6" fill="#000000"/>
<polygon points="1166.1,2548.6 1152.8,2524.6 1179.3,2524.6" fill="#000000"/>
<polygon points="1198.1,2420.1 1184.8,2396.1 1211.3,2396.1" fill="#000000"/>
<polygon points="1230.1,2324.6 1216.8,2300.6 1243.3,2300.6" fill="#000000"/>
<polygon points="1262.1,2279.6 1248.8,2255.6 1275.3,2255.6" fill="#000000"/>
<polygon points="1294.1,3317.9 1280.9,3293.9 1307.4,3293.9" fill="#000000"/>
<polygon points="1326.1,3245.8 1312.9,3221.8 1339.4,3221.8" fill="#000000"/>
<polygon points="1358.1,3131.5 1344.9,3107.5 1371.4,3107.5" fill="#000000"/>
<polygon points="1390.1,2993.0 1376.9,2969.0 1403.4,2969.0" fill="#000000"/>
<polygon points="1422.1,2844.1 1408.9,2820.1 1435.4,2820.1" fill="#000000"/>
<polygon points="1454.1,2693.6 1440.9,2669.6 1467.4,2669.6" fill="#000000"/>
<polygon points="1486.1,2548.6 1472.9,2524.6 1499.4,2524.6" fill="#000000"/>
<polygon points="1518.1,2420.1 1504.9,2396.1 1531.4,2396.1" fill="#000000"/>
<polygon points="1550.1,2294.9 1536.9,2270.9 1563.4,2270.9" fill="#000000"/>
<line x1="238.0" y1="2131.1" x2="238.0" y2="3777.6" stroke="#000" stroke-width="7.0"/>
<line x1="234.5" y1="3774.1" x2="2321.7" y2="3774.1" stroke="#000" stroke-width="7.0"/>
<line x1="238.0" y1="3774.1" x2="270.5" y2="3774.1" stroke="#000" stroke-width="7.0"/>
<line x1="238.0" y1="3610.2" x2="255.0" y2="3610.2" stroke="#000" stroke-width="7.0"/>
<line x1="238.0" y1="3446.2" x2="270.5" y2="3446.2" stroke="#000" stroke-width="7.0"/>
<line x1="238.0" y1="3282.2" x2="255.0" y2="3282.2" stroke="#000" stroke-width="7.0"/>
<line x1="238.0" y1="3118.3" x2="270.5" y2="3118.3" stroke="#000" stroke-width="7.0"/>
<line x1="238.0" y1="2954.3" x2="255.0" y2="2954.3" stroke="#000" stroke-width="7.0"/>
<line x1="238.0" y1="2790.4" x2="270.5" y2="2790.4" stroke="#000" stroke-width="7.0"/>
<line x1="238.0" y1="2626.5" x2="255.0" y2="2626.5" stroke="#000" stroke-width="7.0"/>
<line x1="238.0" y1="2462.5" x2="270.5" y2="2462.5" stroke="#000" stroke-width="7.0"/>
<line x1="238.0" y1="2298.6" x2="255.0" y2="2298.6" stroke="#000" stroke-width="7.0"/>
<line x1="238.0" y1="2134.6" x2="270.5" y2="2134.6" stroke="#000" stroke-width="7.0"/>
<line x1="238.0" y1="3774.1" x2="238.0" y2="3741.6" stroke="#000" stroke-width="7.0"/>
<line x1="411.4" y1="3774.1" x2="411.4" y2="3757.1" stroke="#000" stroke-width="7.0"/>
<line x1="584.7" y1="3774.1" x2="584.7" y2="3741.6" stroke="#000" stroke-width="7.0"/>
<line x1="758.1" y1="3774.1" x2="758.1" y2="3757.1" stroke="#000" stroke-width="7.0"/>
<line x1="931.4" y1="3774.1" x2="931.4" y2="3741.6" stroke="#000" stroke-width="7.0"/>
<line x1="1104.8" y1="3774.1" x2="1104.8" y2="3757.1" stroke="#000" stroke-width="7.0"/>
<line x1="1278.1" y1="3774.1" x2="1278.1" y2="3741.6" stroke="#000" stroke-width="7.0"/>
<line x1="1451.5" y1="3774.1" x2="1451.5" y2="3757.1" stroke="#000" stroke-width="7.0"/>
<line x1="1624.8" y1="3774.1" x2="1624.8" y2="3741.6" stroke="#000" stroke-width="7.0"/>
<line x1="1798.2" y1="3774.1" x2="1798.2" y2="3757.1" stroke="#000" stroke-width="7.0"/>
<line x1="1971.5" y1="3774.1" x2="1971.5" y2="3741.6" stroke="#000" stroke-width="7.0"/>
<line x1="2144.9" y1="3774.1" x2="2144.9" y2="3757.1" stroke="#000" stroke-width="7.0"/>
<line x1="2318.2" y1="3774.1" x2="2318.2" y2="3741.6" stroke="#000" stroke-width="7.0"/>
<text x="203" y="2146.1" text-anchor="end" font-size="85">2</text>
<text x="203" y="2474.0" text-anchor="end" font-size="85">1</text>
<text x="203" y="2801.9" text-anchor="end" font-size="85">0</text>
<text x="203" y="3129.8" text-anchor="end" font-size="85">1</text>
<text x="164.5" y="3129.8" text-anchor="end" font-size="85">−</text>
<text x="203" y="3457.7" text-anchor="end" font-size="85">2</text>
<text x="164.5" y="3457.7" text-anchor="end" font-size="85">−</text>
<text x="203" y="3785.6" text-anchor="end" font-size="85">3</text>
<text x="164.5" y="3785.6" text-anchor="end" font-size="85">−</text>
<text x="158.5 199.5 241.0" y="3881" font-size="85">0.0</text>
<text x="505.2 546.2 587.7" y="3881" font-size="85">0.1</text>
<text x="851.9 892.9 934.4" y="3881" font-size="85">0.2</text>
<text x="1198.6 1239.6 1281.1" y="3881" font-size="85">0.3</text>
<text x="1545.3 1586.3 1627.8" y="3881" font-size="85">0.4</text>
<text x="1892.0 1933.0 1974.5" y="3881" font-size="85">0.5</text>
<text x="2238.7 2279.7 2321.2" y="3881" font-size="85">0.6</text>
<g stroke="#ff0000" stroke-width="7.0" stroke-dasharray="26 32" fill="none"><path d="M364.0,3434.4 L437.8,3434.4"/><path d="M462.2,3434.4 L536.0,3434.4"/></g>
<rect x="440.5" y="3424.9" width="19.0" height="19.0" fill="#ff0000"/>
<g stroke="#ff0000" stroke-width="7.0" stroke-dasharray="26 32" fill="none"><path d="M554.3,3434.4 L627.8,3434.4"/><path d="M652.2,3434.4 L725.7,3434.4"/></g>
<circle cx="640.0" cy="3434.4" r="10.7" fill="#ff0000"/>
<g stroke="#ff0000" stroke-width="7.0" stroke-dasharray="26 32" fill="none"><path d="M743.8,3434.4 L817.3,3434.4"/><path d="M841.8,3434.4 L915.3,3434.4"/></g>
<polygon points="829.5,3419.5 816.5,3441.8 842.5,3441.8" fill="#ff0000"/>
<g stroke="#ff0000" stroke-width="7.0" stroke-dasharray="26 32" fill="none"><path d="M934.5,3434.4 L1008.3,3434.4"/><path d="M1032.7,3434.4 L1106.5,3434.4"/></g>
<polygon points="1020.5,3449.3 1007.5,3427.0 1033.5,3427.0" fill="#ff0000"/>
<text y="3460.5" font-size="78"><tspan x="1125" font-style="italic">v</tspan><tspan x="1156" dy="20" font-style="italic" font-size="52">y</tspan><tspan dy="-20"> </tspan><tspan x="1216" font-style="italic">n</tspan><tspan>= 200/350/500/650</tspan><tspan x="1846.3" font-size="62.5" dy="-4">（</tspan><tspan x="1919" dy="4">r/min</tspan><tspan x="2092" font-size="62.5" dy="-4">）</tspan></text>
<g stroke="#ff00ff" stroke-width="7.0" stroke-dasharray="5.3 29.1" fill="none"><path d="M364.0,3548.1 L437.8,3548.1"/><path d="M462.2,3548.1 L536.0,3548.1"/></g>
<rect x="440.5" y="3538.6" width="19.0" height="19.0" fill="#ff00ff"/>
<g stroke="#ff00ff" stroke-width="7.0" stroke-dasharray="5.3 29.1" fill="none"><path d="M554.3,3548.1 L627.8,3548.1"/><path d="M652.2,3548.1 L725.7,3548.1"/></g>
<circle cx="640.0" cy="3548.1" r="10.7" fill="#ff00ff"/>
<g stroke="#ff00ff" stroke-width="7.0" stroke-dasharray="5.3 29.1" fill="none"><path d="M743.8,3548.1 L817.3,3548.1"/><path d="M841.8,3548.1 L915.3,3548.1"/></g>
<polygon points="829.5,3533.2 816.5,3555.5 842.5,3555.5" fill="#ff00ff"/>
<g stroke="#ff00ff" stroke-width="7.0" stroke-dasharray="5.3 29.1" fill="none"><path d="M934.5,3548.1 L1008.3,3548.1"/><path d="M1032.7,3548.1 L1106.5,3548.1"/></g>
<polygon points="1020.5,3563.0 1007.5,3540.7 1033.5,3540.7" fill="#ff00ff"/>
<text y="3574.0" font-size="78"><tspan x="1125" font-style="italic">v</tspan><tspan x="1156" dy="20" font-style="italic" font-size="52">x</tspan><tspan dy="-20"> </tspan><tspan x="1216" font-style="italic">n</tspan><tspan>= 200/350/500/650</tspan><tspan x="1846.3" font-size="62.5" dy="-4">（</tspan><tspan x="1919" dy="4">r/min</tspan><tspan x="2092" font-size="62.5" dy="-4">）</tspan></text>
<path d="M364.0,3660.5 L437.8,3660.5M462.2,3660.5 L536.0,3660.5" stroke="#000000" stroke-width="7.0" fill="none"/>
<rect x="440.5" y="3651.0" width="19.0" height="19.0" fill="#000000"/>
<path d="M554.3,3660.5 L627.8,3660.5M652.2,3660.5 L725.7,3660.5" stroke="#000000" stroke-width="7.0" fill="none"/>
<circle cx="640.0" cy="3660.5" r="10.7" fill="#000000"/>
<path d="M743.8,3660.5 L817.3,3660.5M841.8,3660.5 L915.3,3660.5" stroke="#000000" stroke-width="7.0" fill="none"/>
<polygon points="829.5,3645.6 816.5,3667.9 842.5,3667.9" fill="#000000"/>
<path d="M934.5,3660.5 L1008.3,3660.5M1032.7,3660.5 L1106.5,3660.5" stroke="#000000" stroke-width="7.0" fill="none"/>
<polygon points="1020.5,3675.4 1007.5,3653.1 1033.5,3653.1" fill="#000000"/>
<text y="3687.0" font-size="78"><tspan x="1125" font-style="italic">v</tspan><tspan x="1216" font-style="italic">n</tspan><tspan>= 200/350/500/650</tspan><tspan x="1846.3" font-size="62.5" dy="-4">（</tspan><tspan x="1919" dy="4">r/min</tspan><tspan x="2092" font-size="62.5" dy="-4">）</tspan></text>
<text transform="translate(83,2954) rotate(-90)" text-anchor="middle" font-size="86">Velocity/(m/s)</text>
<text x="1278" y="3984.7" text-anchor="middle" font-size="85">Time/s</text>
<text x="1199.6" y="4129" text-anchor="middle" font-size="87">(<tspan font-weight="bold">b</tspan>)</text>
</svg>
</body></html>
